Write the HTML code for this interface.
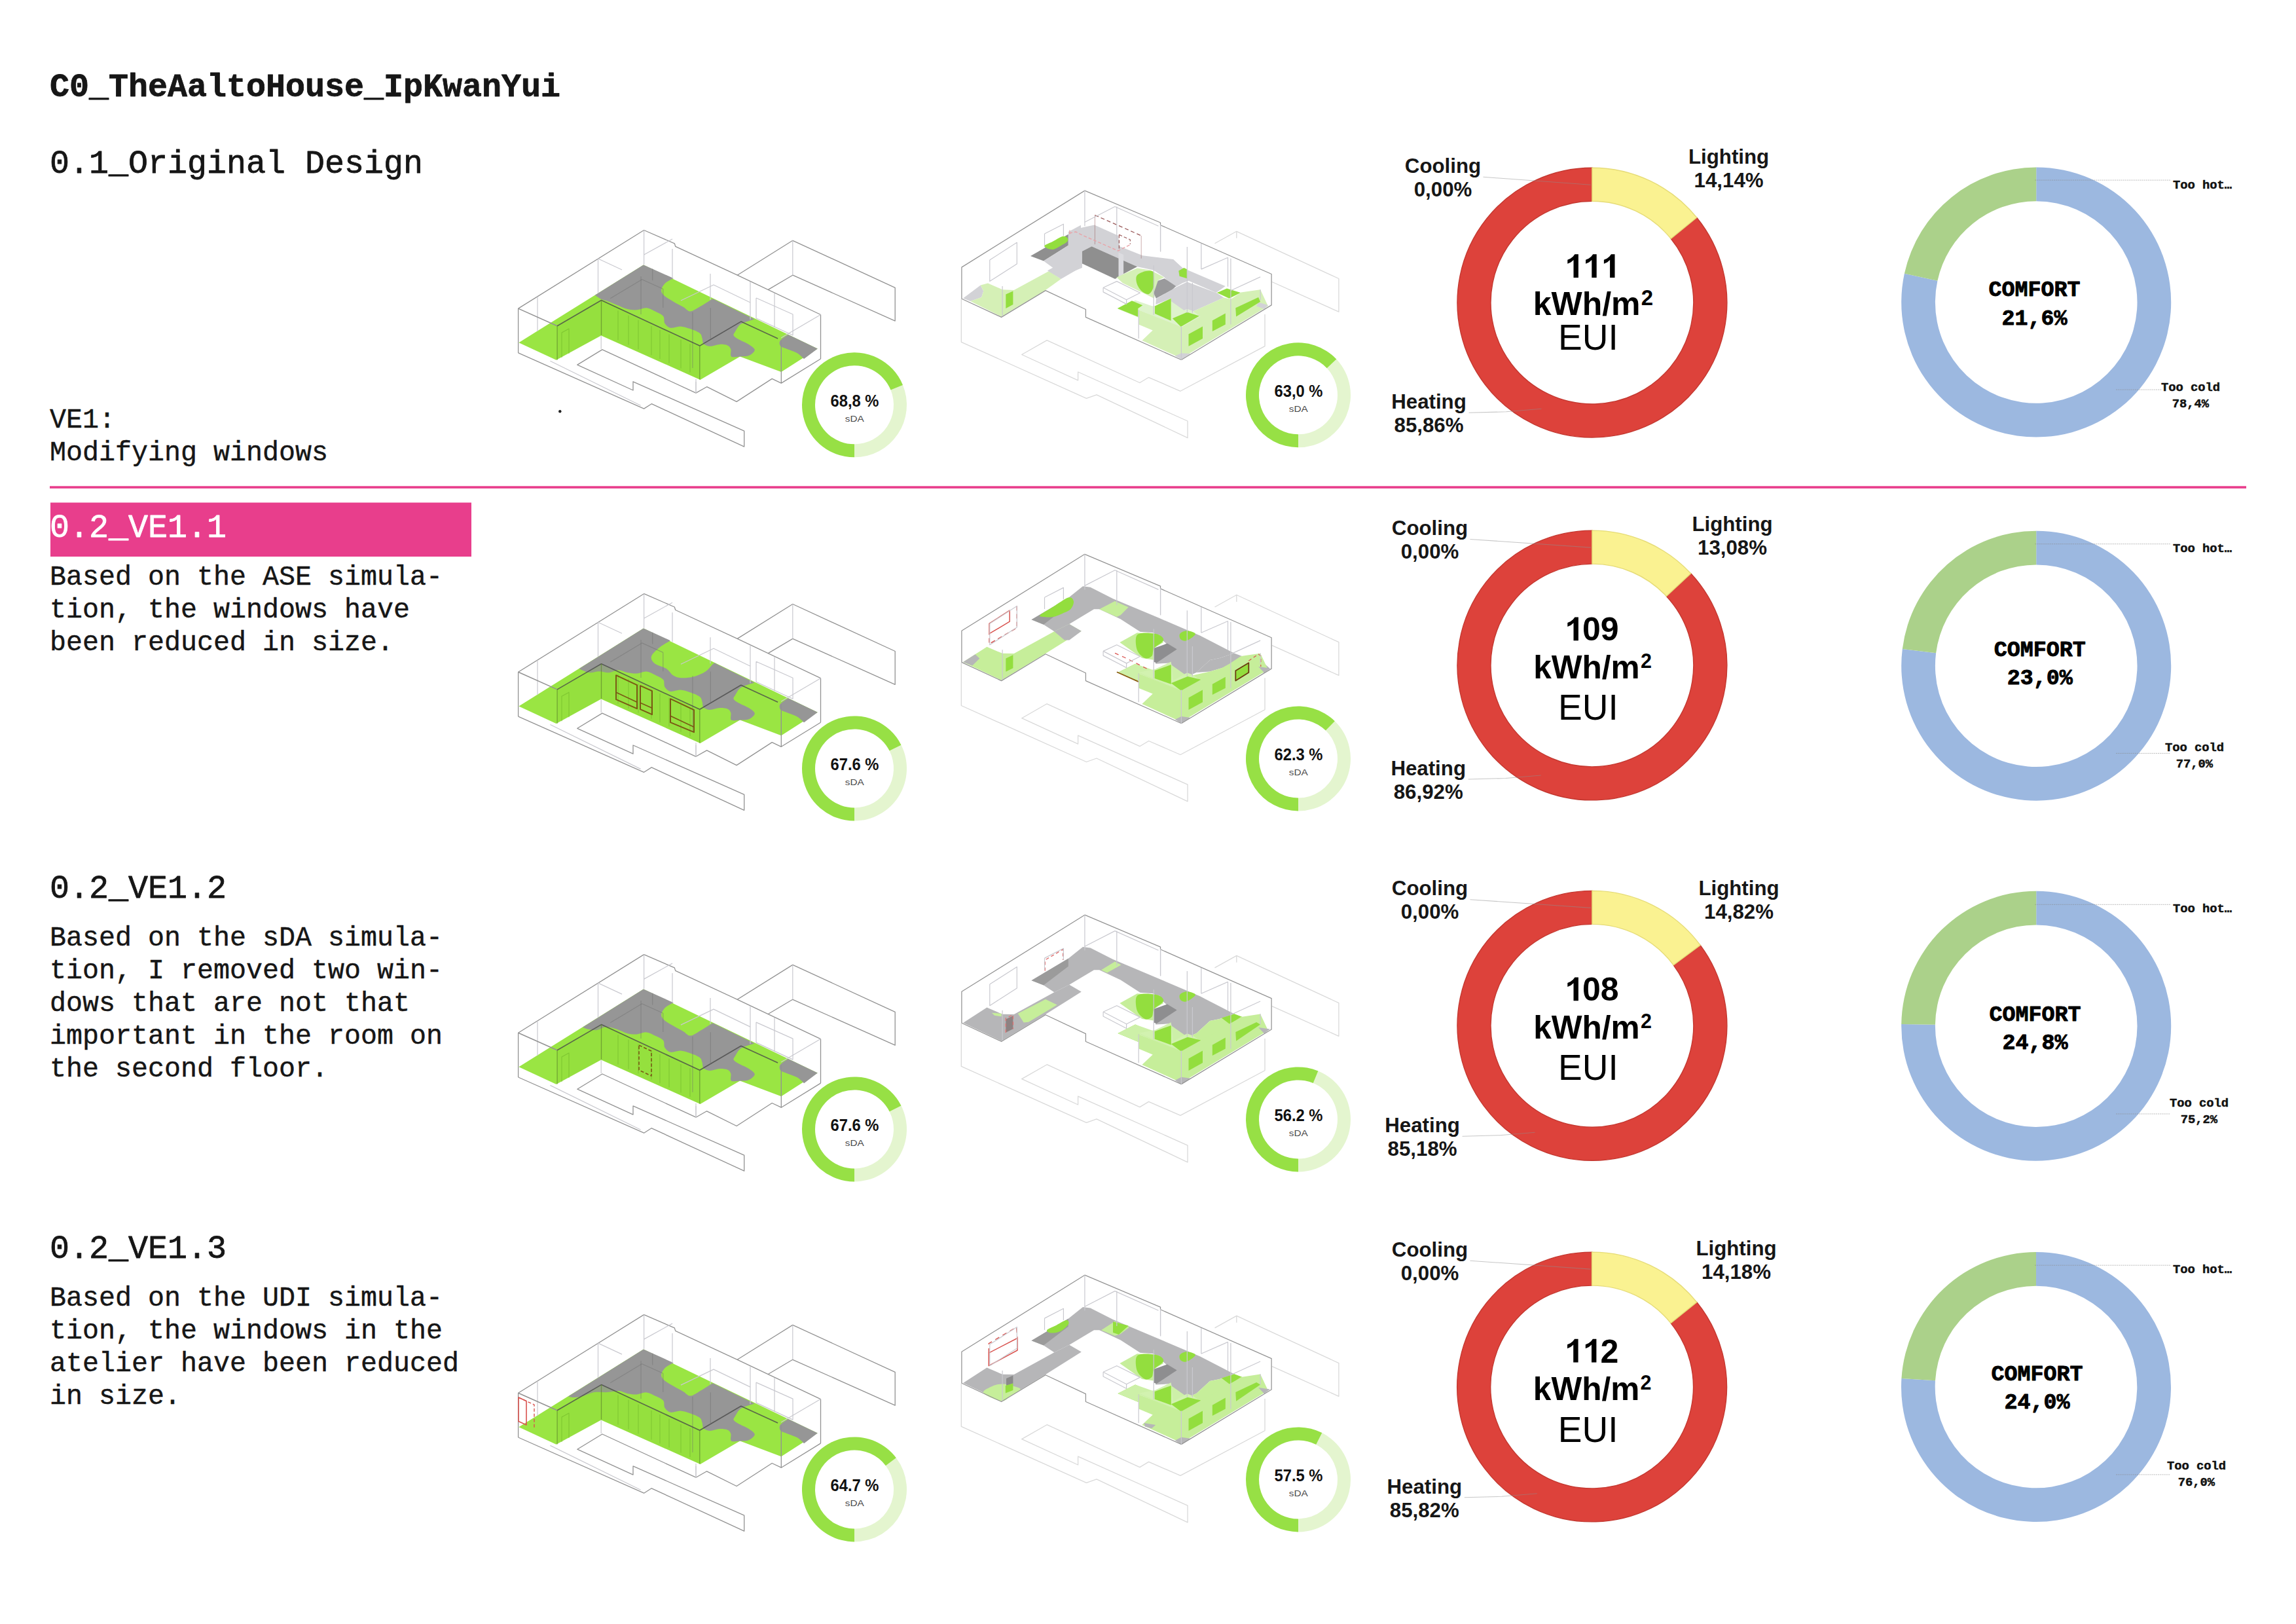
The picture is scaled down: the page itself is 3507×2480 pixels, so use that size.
<!DOCTYPE html>
<html><head><meta charset="utf-8"><title>C0_TheAaltoHouse_IpKwanYui</title>
<style>html,body{margin:0;padding:0;background:#fff}svg{display:block}text{white-space:pre}</style>
</head><body>
<svg width="3507" height="2480" viewBox="0 0 3507 2480">
<rect width="3507" height="2480" fill="#fff"/>
<text x="76" y="147" font-size="50" font-family="Liberation Mono, monospace" font-weight="bold" text-anchor="start" fill="#161616"  stroke="#161616" stroke-width="0.8" stroke-linejoin="round">C0_TheAaltoHouse_IpKwanYui</text>
<text x="76" y="263.6" font-size="50" font-family="Liberation Mono, monospace" font-weight="normal" text-anchor="start" fill="#161616"  stroke="#161616" stroke-width="0.8" stroke-linejoin="round">0.1_Original Design</text>
<text x="76" y="653" font-size="41.67" font-family="Liberation Mono, monospace" font-weight="normal" text-anchor="start" fill="#161616"  stroke="#161616" stroke-width="0.45" stroke-linejoin="round">VE1:</text>
<text x="76" y="703" font-size="41.67" font-family="Liberation Mono, monospace" font-weight="normal" text-anchor="start" fill="#161616"  stroke="#161616" stroke-width="0.45" stroke-linejoin="round">Modifying windows</text>
<rect x="76" y="742.3" width="3355" height="3.6" fill="#E83E8C"/>
<rect x="77" y="767.5" width="643" height="82.5" fill="#E83E8C"/>
<text x="76" y="820" font-size="50" font-family="Liberation Mono, monospace" font-weight="normal" text-anchor="start" fill="#ffffff"  stroke="#ffffff" stroke-width="0.8" stroke-linejoin="round">0.2_VE1.1</text>
<text x="76" y="893.3" font-size="41.67" font-family="Liberation Mono, monospace" font-weight="normal" text-anchor="start" fill="#161616"  stroke="#161616" stroke-width="0.45" stroke-linejoin="round">Based on the ASE simula-</text>
<text x="76" y="943.3" font-size="41.67" font-family="Liberation Mono, monospace" font-weight="normal" text-anchor="start" fill="#161616"  stroke="#161616" stroke-width="0.45" stroke-linejoin="round">tion, the windows have</text>
<text x="76" y="993.3" font-size="41.67" font-family="Liberation Mono, monospace" font-weight="normal" text-anchor="start" fill="#161616"  stroke="#161616" stroke-width="0.45" stroke-linejoin="round">been reduced in size.</text>
<text x="76" y="1371" font-size="50" font-family="Liberation Mono, monospace" font-weight="normal" text-anchor="start" fill="#161616"  stroke="#161616" stroke-width="0.8" stroke-linejoin="round">0.2_VE1.2</text>
<text x="76" y="1443.7" font-size="41.67" font-family="Liberation Mono, monospace" font-weight="normal" text-anchor="start" fill="#161616"  stroke="#161616" stroke-width="0.45" stroke-linejoin="round">Based on the sDA simula-</text>
<text x="76" y="1493.7" font-size="41.67" font-family="Liberation Mono, monospace" font-weight="normal" text-anchor="start" fill="#161616"  stroke="#161616" stroke-width="0.45" stroke-linejoin="round">tion, I removed two win-</text>
<text x="76" y="1543.7" font-size="41.67" font-family="Liberation Mono, monospace" font-weight="normal" text-anchor="start" fill="#161616"  stroke="#161616" stroke-width="0.45" stroke-linejoin="round">dows that are not that</text>
<text x="76" y="1593.7" font-size="41.67" font-family="Liberation Mono, monospace" font-weight="normal" text-anchor="start" fill="#161616"  stroke="#161616" stroke-width="0.45" stroke-linejoin="round">important in the room on</text>
<text x="76" y="1643.7" font-size="41.67" font-family="Liberation Mono, monospace" font-weight="normal" text-anchor="start" fill="#161616"  stroke="#161616" stroke-width="0.45" stroke-linejoin="round">the second floor.</text>
<text x="76" y="1921" font-size="50" font-family="Liberation Mono, monospace" font-weight="normal" text-anchor="start" fill="#161616"  stroke="#161616" stroke-width="0.8" stroke-linejoin="round">0.2_VE1.3</text>
<text x="76" y="1993.7" font-size="41.67" font-family="Liberation Mono, monospace" font-weight="normal" text-anchor="start" fill="#161616"  stroke="#161616" stroke-width="0.45" stroke-linejoin="round">Based on the UDI simula-</text>
<text x="76" y="2043.7" font-size="41.67" font-family="Liberation Mono, monospace" font-weight="normal" text-anchor="start" fill="#161616"  stroke="#161616" stroke-width="0.45" stroke-linejoin="round">tion, the windows in the</text>
<text x="76" y="2093.7" font-size="41.67" font-family="Liberation Mono, monospace" font-weight="normal" text-anchor="start" fill="#161616"  stroke="#161616" stroke-width="0.45" stroke-linejoin="round">atelier have been reduced</text>
<text x="76" y="2143.7" font-size="41.67" font-family="Liberation Mono, monospace" font-weight="normal" text-anchor="start" fill="#161616"  stroke="#161616" stroke-width="0.45" stroke-linejoin="round">in size.</text>
<path d="M2591.70 332.26A205.9 205.9 0 1 1 2431.90 256.20L2431.90 307.20A154.9 154.9 0 1 0 2552.12 364.42Z" fill="#DD423B" stroke="#c43830" stroke-width="1.4"/>
<path d="M2431.90 256.20A205.9 205.9 0 0 1 2591.70 332.26L2552.12 364.42A154.9 154.9 0 0 0 2431.90 307.20Z" fill="#FAF291" stroke="#e6dc78" stroke-width="1.4"/>
<path d="M2265.5 270.3 L2429.9 282.20000000000005" stroke="#8f8f8f" stroke-opacity=".5" stroke-width="1.1" fill="none"/>
<path d="M2243.5 630.3 L2300.5 628.8 L2354.5 624.3" stroke="#8f8f8f" stroke-opacity=".5" stroke-width="1.1" fill="none"/>
<text x="2204" y="263.8" font-size="31.25" font-family="Liberation Sans, sans-serif" font-weight="bold" text-anchor="middle" fill="#161616" >Cooling</text>
<text x="2204" y="299.90000000000003" font-size="31.25" font-family="Liberation Sans, sans-serif" font-weight="bold" text-anchor="middle" fill="#161616" >0,00%</text>
<text x="2640.6" y="249.7" font-size="31.25" font-family="Liberation Sans, sans-serif" font-weight="bold" text-anchor="middle" fill="#161616" >Lighting</text>
<text x="2640.6" y="285.8" font-size="31.25" font-family="Liberation Sans, sans-serif" font-weight="bold" text-anchor="middle" fill="#161616" >14,14%</text>
<text x="2182.5" y="624.3" font-size="31.25" font-family="Liberation Sans, sans-serif" font-weight="bold" text-anchor="middle" fill="#161616" >Heating</text>
<text x="2182.5" y="660.4" font-size="31.25" font-family="Liberation Sans, sans-serif" font-weight="bold" text-anchor="middle" fill="#161616" >85,86%</text>
<path d="M2410.90 388.20L2405.40 388.20L2402.70 391.80L2398.90 394.80L2394.30 396.80L2394.30 402.70L2399.40 400.40L2403.50 397.00L2403.50 424.00L2410.90 424.00Z" fill="#000"/>
<path d="M2438.70 388.20L2433.20 388.20L2430.50 391.80L2426.70 394.80L2422.10 396.80L2422.10 402.70L2427.20 400.40L2431.30 397.00L2431.30 424.00L2438.70 424.00Z" fill="#000"/>
<path d="M2466.50 388.20L2461.00 388.20L2458.30 391.80L2454.50 394.80L2449.90 396.80L2449.90 402.70L2455.00 400.40L2459.10 397.00L2459.10 424.00L2466.50 424.00Z" fill="#000"/>
<text x="2433.4" y="481.3" font-size="50" font-family="Liberation Sans, sans-serif" font-weight="bold" text-anchor="middle" fill="#000" >kWh/m<tspan font-size="33" dy="-15.6" dx="1.2">2</tspan></text>
<text x="2425.9" y="534.2" font-size="55" font-family="Liberation Sans, sans-serif" font-weight="normal" text-anchor="middle" fill="#000" >EUI</text>
<path d="M2582.70 875.81A205.9 205.9 0 1 1 2431.90 810.10L2431.90 861.10A154.9 154.9 0 1 0 2545.35 910.53Z" fill="#DD423B" stroke="#c43830" stroke-width="1.4"/>
<path d="M2431.90 810.10A205.9 205.9 0 0 1 2582.70 875.81L2545.35 910.53A154.9 154.9 0 0 0 2431.90 861.10Z" fill="#FAF291" stroke="#e6dc78" stroke-width="1.4"/>
<path d="M2245.5 823.5 L2429.9 836.1" stroke="#8f8f8f" stroke-opacity=".5" stroke-width="1.1" fill="none"/>
<path d="M2242.7 1190 L2299.7 1188.5 L2353.7 1184" stroke="#8f8f8f" stroke-opacity=".5" stroke-width="1.1" fill="none"/>
<text x="2184" y="817" font-size="31.25" font-family="Liberation Sans, sans-serif" font-weight="bold" text-anchor="middle" fill="#161616" >Cooling</text>
<text x="2184" y="853.1" font-size="31.25" font-family="Liberation Sans, sans-serif" font-weight="bold" text-anchor="middle" fill="#161616" >0,00%</text>
<text x="2646" y="811" font-size="31.25" font-family="Liberation Sans, sans-serif" font-weight="bold" text-anchor="middle" fill="#161616" >Lighting</text>
<text x="2646" y="847.1" font-size="31.25" font-family="Liberation Sans, sans-serif" font-weight="bold" text-anchor="middle" fill="#161616" >13,08%</text>
<text x="2181.7" y="1184" font-size="31.25" font-family="Liberation Sans, sans-serif" font-weight="bold" text-anchor="middle" fill="#161616" >Heating</text>
<text x="2181.7" y="1220.1" font-size="31.25" font-family="Liberation Sans, sans-serif" font-weight="bold" text-anchor="middle" fill="#161616" >86,92%</text>
<path d="M2410.90 942.50L2405.40 942.50L2402.70 946.10L2398.90 949.10L2394.30 951.10L2394.30 957.00L2399.40 954.70L2403.50 951.30L2403.50 978.30L2410.90 978.30Z" fill="#000"/>
<text x="2417.0000000000005" y="978.3" font-size="50" font-family="Liberation Sans, sans-serif" font-weight="bold" text-anchor="start" fill="#000" >0</text>
<text x="2444.8" y="978.3" font-size="50" font-family="Liberation Sans, sans-serif" font-weight="bold" text-anchor="start" fill="#000" >9</text>
<text x="2432.5" y="1035.6" font-size="49.6" font-family="Liberation Sans, sans-serif" font-weight="bold" text-anchor="middle" fill="#000" >kWh/m<tspan font-size="30.5" dy="-15.6" dx="1.2">2</tspan></text>
<text x="2425.9" y="1098.7" font-size="55" font-family="Liberation Sans, sans-serif" font-weight="normal" text-anchor="middle" fill="#000" >EUI</text>
<path d="M2597.10 1443.40A205.9 205.9 0 1 1 2431.90 1360.40L2431.90 1411.40A154.9 154.9 0 1 0 2556.18 1473.84Z" fill="#DD423B" stroke="#c43830" stroke-width="1.4"/>
<path d="M2431.90 1360.40A205.9 205.9 0 0 1 2597.10 1443.40L2556.18 1473.84A154.9 154.9 0 0 0 2431.90 1411.40Z" fill="#FAF291" stroke="#e6dc78" stroke-width="1.4"/>
<path d="M2245.5 1373.7 L2429.9 1386.3999999999999" stroke="#8f8f8f" stroke-opacity=".5" stroke-width="1.1" fill="none"/>
<path d="M2233.6 1735.2 L2290.6 1733.7 L2344.6 1729.2" stroke="#8f8f8f" stroke-opacity=".5" stroke-width="1.1" fill="none"/>
<text x="2184" y="1367.2" font-size="31.25" font-family="Liberation Sans, sans-serif" font-weight="bold" text-anchor="middle" fill="#161616" >Cooling</text>
<text x="2184" y="1403.3" font-size="31.25" font-family="Liberation Sans, sans-serif" font-weight="bold" text-anchor="middle" fill="#161616" >0,00%</text>
<text x="2656" y="1366.5" font-size="31.25" font-family="Liberation Sans, sans-serif" font-weight="bold" text-anchor="middle" fill="#161616" >Lighting</text>
<text x="2656" y="1402.6" font-size="31.25" font-family="Liberation Sans, sans-serif" font-weight="bold" text-anchor="middle" fill="#161616" >14,82%</text>
<text x="2172.6" y="1729.2" font-size="31.25" font-family="Liberation Sans, sans-serif" font-weight="bold" text-anchor="middle" fill="#161616" >Heating</text>
<text x="2172.6" y="1765.3" font-size="31.25" font-family="Liberation Sans, sans-serif" font-weight="bold" text-anchor="middle" fill="#161616" >85,18%</text>
<path d="M2410.90 1492.50L2405.40 1492.50L2402.70 1496.10L2398.90 1499.10L2394.30 1501.10L2394.30 1507.00L2399.40 1504.70L2403.50 1501.30L2403.50 1528.30L2410.90 1528.30Z" fill="#000"/>
<text x="2417.0000000000005" y="1528.3" font-size="50" font-family="Liberation Sans, sans-serif" font-weight="bold" text-anchor="start" fill="#000" >0</text>
<text x="2444.8" y="1528.3" font-size="50" font-family="Liberation Sans, sans-serif" font-weight="bold" text-anchor="start" fill="#000" >8</text>
<text x="2432.5" y="1585.8" font-size="49.6" font-family="Liberation Sans, sans-serif" font-weight="bold" text-anchor="middle" fill="#000" >kWh/m<tspan font-size="30.5" dy="-15.6" dx="1.2">2</tspan></text>
<text x="2425.9" y="1649.0" font-size="55" font-family="Liberation Sans, sans-serif" font-weight="normal" text-anchor="middle" fill="#000" >EUI</text>
<path d="M2591.72 1988.56A205.9 205.9 0 1 1 2431.60 1912.10L2431.60 1963.10A154.9 154.9 0 1 0 2552.06 2020.62Z" fill="#DD423B" stroke="#c43830" stroke-width="1.4"/>
<path d="M2431.60 1912.10A205.9 205.9 0 0 1 2591.72 1988.56L2552.06 2020.62A154.9 154.9 0 0 0 2431.60 1963.10Z" fill="#FAF291" stroke="#e6dc78" stroke-width="1.4"/>
<path d="M2245.5 1925.2 L2429.6 1938.1" stroke="#8f8f8f" stroke-opacity=".5" stroke-width="1.1" fill="none"/>
<path d="M2236.8 2286.8 L2293.8 2285.3 L2347.8 2280.8" stroke="#8f8f8f" stroke-opacity=".5" stroke-width="1.1" fill="none"/>
<text x="2184" y="1918.7" font-size="31.25" font-family="Liberation Sans, sans-serif" font-weight="bold" text-anchor="middle" fill="#161616" >Cooling</text>
<text x="2184" y="1954.8" font-size="31.25" font-family="Liberation Sans, sans-serif" font-weight="bold" text-anchor="middle" fill="#161616" >0,00%</text>
<text x="2652" y="1916.5" font-size="31.25" font-family="Liberation Sans, sans-serif" font-weight="bold" text-anchor="middle" fill="#161616" >Lighting</text>
<text x="2652" y="1952.6" font-size="31.25" font-family="Liberation Sans, sans-serif" font-weight="bold" text-anchor="middle" fill="#161616" >14,18%</text>
<text x="2175.8" y="2280.8" font-size="31.25" font-family="Liberation Sans, sans-serif" font-weight="bold" text-anchor="middle" fill="#161616" >Heating</text>
<text x="2175.8" y="2316.9" font-size="31.25" font-family="Liberation Sans, sans-serif" font-weight="bold" text-anchor="middle" fill="#161616" >85,82%</text>
<path d="M2410.60 2044.70L2405.10 2044.70L2402.40 2048.30L2398.60 2051.30L2394.00 2053.30L2394.00 2059.20L2399.10 2056.90L2403.20 2053.50L2403.20 2080.50L2410.60 2080.50Z" fill="#000"/>
<path d="M2438.40 2044.70L2432.90 2044.70L2430.20 2048.30L2426.40 2051.30L2421.80 2053.30L2421.80 2059.20L2426.90 2056.90L2431.00 2053.50L2431.00 2080.50L2438.40 2080.50Z" fill="#000"/>
<text x="2444.5" y="2080.5" font-size="50" font-family="Liberation Sans, sans-serif" font-weight="bold" text-anchor="start" fill="#000" >2</text>
<text x="2432.2" y="2137.9" font-size="49.6" font-family="Liberation Sans, sans-serif" font-weight="bold" text-anchor="middle" fill="#000" >kWh/m<tspan font-size="30.5" dy="-15.6" dx="1.2">2</tspan></text>
<text x="2425.6" y="2201.5" font-size="55" font-family="Liberation Sans, sans-serif" font-weight="normal" text-anchor="middle" fill="#000" >EUI</text>
<path d="M3110.20 255.50A206 206 0 1 1 2908.88 417.83L2959.41 428.79A154.3 154.3 0 1 0 3110.20 307.20Z" fill="#9CB8E0"/>
<path d="M2908.88 417.83A206 206 0 0 1 3110.20 255.50L3110.20 307.20A154.3 154.3 0 0 0 2959.41 428.79Z" fill="#ABD18A"/>
<path d="M3108.2 275.1 H3315" stroke="#8a8a8a" stroke-opacity=".55" stroke-width="1" stroke-dasharray="2.2 1"/>
<path d="M3232 595.1 H3302" stroke="#8a8a8a" stroke-opacity=".55" stroke-width="1" stroke-dasharray="2.2 1"/>
<text x="3107.4" y="452.2" font-size="33.33" font-family="Liberation Mono, monospace" font-weight="bold" text-anchor="middle" fill="#000"  stroke="#000" stroke-width="0.9" stroke-linejoin="round">COMFORT</text>
<text x="3107.4" y="496.2" font-size="33.33" font-family="Liberation Mono, monospace" font-weight="bold" text-anchor="middle" fill="#000"  stroke="#000" stroke-width="0.9" stroke-linejoin="round">21,6%</text>
<text x="3319" y="288.3" font-size="18.75" font-family="Liberation Mono, monospace" font-weight="bold" text-anchor="start" fill="#111"  stroke="#111" stroke-width="0.5" stroke-linejoin="round">Too hot…</text>
<text x="3346" y="597.3" font-size="18.75" font-family="Liberation Mono, monospace" font-weight="bold" text-anchor="middle" fill="#111"  stroke="#111" stroke-width="0.5" stroke-linejoin="round">Too cold</text>
<text x="3346" y="621.9" font-size="18.75" font-family="Liberation Mono, monospace" font-weight="bold" text-anchor="middle" fill="#111"  stroke="#111" stroke-width="0.5" stroke-linejoin="round">78,4%</text>
<path d="M3110.20 810.70A206 206 0 1 1 2905.82 990.88L2957.12 997.36A154.3 154.3 0 1 0 3110.20 862.40Z" fill="#9CB8E0"/>
<path d="M2905.82 990.88A206 206 0 0 1 3110.20 810.70L3110.20 862.40A154.3 154.3 0 0 0 2957.12 997.36Z" fill="#ABD18A"/>
<path d="M3108.2 830.7 H3315" stroke="#8a8a8a" stroke-opacity=".55" stroke-width="1" stroke-dasharray="2.2 1"/>
<path d="M3232 1150.4 H3315" stroke="#8a8a8a" stroke-opacity=".55" stroke-width="1" stroke-dasharray="2.2 1"/>
<text x="3115.8" y="1001.8" font-size="33.33" font-family="Liberation Mono, monospace" font-weight="bold" text-anchor="middle" fill="#000"  stroke="#000" stroke-width="0.9" stroke-linejoin="round">COMFORT</text>
<text x="3115.8" y="1045.1" font-size="33.33" font-family="Liberation Mono, monospace" font-weight="bold" text-anchor="middle" fill="#000"  stroke="#000" stroke-width="0.9" stroke-linejoin="round">23,0%</text>
<text x="3319" y="843.2" font-size="18.75" font-family="Liberation Mono, monospace" font-weight="bold" text-anchor="start" fill="#111"  stroke="#111" stroke-width="0.5" stroke-linejoin="round">Too hot…</text>
<text x="3352" y="1146.9" font-size="18.75" font-family="Liberation Mono, monospace" font-weight="bold" text-anchor="middle" fill="#111"  stroke="#111" stroke-width="0.5" stroke-linejoin="round">Too cold</text>
<text x="3352" y="1171.5" font-size="18.75" font-family="Liberation Mono, monospace" font-weight="bold" text-anchor="middle" fill="#111"  stroke="#111" stroke-width="0.5" stroke-linejoin="round">77,0%</text>
<path d="M3110.20 1360.70A206 206 0 1 1 2904.22 1564.11L2955.91 1564.76A154.3 154.3 0 1 0 3110.20 1412.40Z" fill="#9CB8E0"/>
<path d="M2904.22 1564.11A206 206 0 0 1 3110.20 1360.70L3110.20 1412.40A154.3 154.3 0 0 0 2955.91 1564.76Z" fill="#ABD18A"/>
<path d="M3108.2 1381.3 H3315" stroke="#8a8a8a" stroke-opacity=".55" stroke-width="1" stroke-dasharray="2.2 1"/>
<path d="M3232 1701 H3315" stroke="#8a8a8a" stroke-opacity=".55" stroke-width="1" stroke-dasharray="2.2 1"/>
<text x="3108.4" y="1559" font-size="33.33" font-family="Liberation Mono, monospace" font-weight="bold" text-anchor="middle" fill="#000"  stroke="#000" stroke-width="0.9" stroke-linejoin="round">COMFORT</text>
<text x="3108.4" y="1602" font-size="33.33" font-family="Liberation Mono, monospace" font-weight="bold" text-anchor="middle" fill="#000"  stroke="#000" stroke-width="0.9" stroke-linejoin="round">24,8%</text>
<text x="3319" y="1393.2" font-size="18.75" font-family="Liberation Mono, monospace" font-weight="bold" text-anchor="start" fill="#111"  stroke="#111" stroke-width="0.5" stroke-linejoin="round">Too hot…</text>
<text x="3359" y="1690" font-size="18.75" font-family="Liberation Mono, monospace" font-weight="bold" text-anchor="middle" fill="#111"  stroke="#111" stroke-width="0.5" stroke-linejoin="round">Too cold</text>
<text x="3359" y="1714.6" font-size="18.75" font-family="Liberation Mono, monospace" font-weight="bold" text-anchor="middle" fill="#111"  stroke="#111" stroke-width="0.5" stroke-linejoin="round">75,2%</text>
<path d="M3110.00 1912.00A206 206 0 1 1 2904.41 2105.07L2956.00 2108.31A154.3 154.3 0 1 0 3110.00 1963.70Z" fill="#9CB8E0"/>
<path d="M2904.41 2105.07A206 206 0 0 1 3110.00 1912.00L3110.00 1963.70A154.3 154.3 0 0 0 2956.00 2108.31Z" fill="#ABD18A"/>
<path d="M3108.0 1932.2 H3315" stroke="#8a8a8a" stroke-opacity=".55" stroke-width="1" stroke-dasharray="2.2 1"/>
<path d="M3232 2251.9 H3315" stroke="#8a8a8a" stroke-opacity=".55" stroke-width="1" stroke-dasharray="2.2 1"/>
<text x="3111.4" y="2108.1" font-size="33.33" font-family="Liberation Mono, monospace" font-weight="bold" text-anchor="middle" fill="#000"  stroke="#000" stroke-width="0.9" stroke-linejoin="round">COMFORT</text>
<text x="3111.4" y="2150.5" font-size="33.33" font-family="Liberation Mono, monospace" font-weight="bold" text-anchor="middle" fill="#000"  stroke="#000" stroke-width="0.9" stroke-linejoin="round">24,0%</text>
<text x="3319" y="1944.2" font-size="18.75" font-family="Liberation Mono, monospace" font-weight="bold" text-anchor="start" fill="#111"  stroke="#111" stroke-width="0.5" stroke-linejoin="round">Too hot…</text>
<text x="3355" y="2244.1" font-size="18.75" font-family="Liberation Mono, monospace" font-weight="bold" text-anchor="middle" fill="#111"  stroke="#111" stroke-width="0.5" stroke-linejoin="round">Too cold</text>
<text x="3355" y="2268.7" font-size="18.75" font-family="Liberation Mono, monospace" font-weight="bold" text-anchor="middle" fill="#111"  stroke="#111" stroke-width="0.5" stroke-linejoin="round">76,0%</text>
<path d="M1379.01 587.92A80 80 0 0 1 1305.00 698.30L1305.00 678.30A60 60 0 0 0 1360.50 595.51Z" fill="#E4F5CF"/>
<path d="M1305.00 698.30A80 80 0 1 1 1379.01 587.92L1360.50 595.51A60 60 0 1 0 1305.00 678.30Z" fill="#97E045"/>
<text x="1305.5" y="620.5" font-size="26" font-family="Liberation Sans, sans-serif" font-weight="bold" text-anchor="middle" fill="#111" textLength="74" lengthAdjust="spacingAndGlyphs">68,8 %</text>
<text x="1305.3" y="643.5" font-size="13.5" font-family="Liberation Sans, sans-serif" font-weight="normal" text-anchor="middle" fill="#4a4a4a" textLength="29" lengthAdjust="spacingAndGlyphs">sDA</text>
<path d="M2041.32 548.54A80 80 0 0 1 1983.00 683.30L1983.00 663.30A60 60 0 0 0 2026.74 562.23Z" fill="#E4F5CF"/>
<path d="M1983.00 683.30A80 80 0 1 1 2041.32 548.54L2026.74 562.23A60 60 0 1 0 1983.00 663.30Z" fill="#97E045"/>
<text x="1983.5" y="605.5" font-size="26" font-family="Liberation Sans, sans-serif" font-weight="bold" text-anchor="middle" fill="#111" textLength="74" lengthAdjust="spacingAndGlyphs">63,0 %</text>
<text x="1983.3" y="628.5" font-size="13.5" font-family="Liberation Sans, sans-serif" font-weight="normal" text-anchor="middle" fill="#4a4a4a" textLength="29" lengthAdjust="spacingAndGlyphs">sDA</text>
<path d="M1376.51 1137.63A80 80 0 0 1 1305.00 1253.50L1305.00 1233.50A60 60 0 0 0 1358.63 1146.60Z" fill="#E4F5CF"/>
<path d="M1305.00 1253.50A80 80 0 1 1 1376.51 1137.63L1358.63 1146.60A60 60 0 1 0 1305.00 1233.50Z" fill="#97E045"/>
<text x="1305.5" y="1175.7" font-size="26" font-family="Liberation Sans, sans-serif" font-weight="bold" text-anchor="middle" fill="#111" textLength="74" lengthAdjust="spacingAndGlyphs">67.6 %</text>
<text x="1305.3" y="1198.7" font-size="13.5" font-family="Liberation Sans, sans-serif" font-weight="normal" text-anchor="middle" fill="#4a4a4a" textLength="29" lengthAdjust="spacingAndGlyphs">sDA</text>
<path d="M2038.85 1101.23A80 80 0 0 1 1983.00 1238.50L1983.00 1218.50A60 60 0 0 0 2024.89 1115.54Z" fill="#E4F5CF"/>
<path d="M1983.00 1238.50A80 80 0 1 1 2038.85 1101.23L2024.89 1115.54A60 60 0 1 0 1983.00 1218.50Z" fill="#97E045"/>
<text x="1983.5" y="1160.7" font-size="26" font-family="Liberation Sans, sans-serif" font-weight="bold" text-anchor="middle" fill="#111" textLength="74" lengthAdjust="spacingAndGlyphs">62.3 %</text>
<text x="1983.3" y="1183.7" font-size="13.5" font-family="Liberation Sans, sans-serif" font-weight="normal" text-anchor="middle" fill="#4a4a4a" textLength="29" lengthAdjust="spacingAndGlyphs">sDA</text>
<path d="M1376.51 1688.53A80 80 0 0 1 1305.00 1804.40L1305.00 1784.40A60 60 0 0 0 1358.63 1697.50Z" fill="#E4F5CF"/>
<path d="M1305.00 1804.40A80 80 0 1 1 1376.51 1688.53L1358.63 1697.50A60 60 0 1 0 1305.00 1784.40Z" fill="#97E045"/>
<text x="1305.5" y="1726.6" font-size="26" font-family="Liberation Sans, sans-serif" font-weight="bold" text-anchor="middle" fill="#111" textLength="74" lengthAdjust="spacingAndGlyphs">67.6 %</text>
<text x="1305.3" y="1749.6" font-size="13.5" font-family="Liberation Sans, sans-serif" font-weight="normal" text-anchor="middle" fill="#4a4a4a" textLength="29" lengthAdjust="spacingAndGlyphs">sDA</text>
<path d="M2013.38 1635.39A80 80 0 0 1 1983.00 1789.40L1983.00 1769.40A60 60 0 0 0 2005.79 1653.90Z" fill="#E4F5CF"/>
<path d="M1983.00 1789.40A80 80 0 1 1 2013.38 1635.39L2005.79 1653.90A60 60 0 1 0 1983.00 1769.40Z" fill="#97E045"/>
<text x="1983.5" y="1711.6" font-size="26" font-family="Liberation Sans, sans-serif" font-weight="bold" text-anchor="middle" fill="#111" textLength="74" lengthAdjust="spacingAndGlyphs">56.2 %</text>
<text x="1983.3" y="1734.6" font-size="13.5" font-family="Liberation Sans, sans-serif" font-weight="normal" text-anchor="middle" fill="#4a4a4a" textLength="29" lengthAdjust="spacingAndGlyphs">sDA</text>
<path d="M1368.82 2226.17A80 80 0 0 1 1305.00 2354.40L1305.00 2334.40A60 60 0 0 0 1352.87 2238.22Z" fill="#E4F5CF"/>
<path d="M1305.00 2354.40A80 80 0 1 1 1368.82 2226.17L1352.87 2238.22A60 60 0 1 0 1305.00 2334.40Z" fill="#97E045"/>
<text x="1305.5" y="2276.5999999999995" font-size="26" font-family="Liberation Sans, sans-serif" font-weight="bold" text-anchor="middle" fill="#111" textLength="74" lengthAdjust="spacingAndGlyphs">64.7 %</text>
<text x="1305.3" y="2299.5999999999995" font-size="13.5" font-family="Liberation Sans, sans-serif" font-weight="normal" text-anchor="middle" fill="#4a4a4a" textLength="29" lengthAdjust="spacingAndGlyphs">sDA</text>
<path d="M2019.32 2188.12A80 80 0 0 1 1983.00 2339.40L1983.00 2319.40A60 60 0 0 0 2010.24 2205.94Z" fill="#E4F5CF"/>
<path d="M1983.00 2339.40A80 80 0 1 1 2019.32 2188.12L2010.24 2205.94A60 60 0 1 0 1983.00 2319.40Z" fill="#97E045"/>
<text x="1983.5" y="2261.5999999999995" font-size="26" font-family="Liberation Sans, sans-serif" font-weight="bold" text-anchor="middle" fill="#111" textLength="74" lengthAdjust="spacingAndGlyphs">57.5 %</text>
<text x="1983.3" y="2284.5999999999995" font-size="13.5" font-family="Liberation Sans, sans-serif" font-weight="normal" text-anchor="middle" fill="#4a4a4a" textLength="29" lengthAdjust="spacingAndGlyphs">sDA</text>
<g transform="translate(0 0)">
<path d="M792.4 523.2L982.9 404.4L1248.8 532.5L1193.3 568.1L1130.3 544.4L1069.6 579.9L918.2 512.4L849.5 549.7Z" fill="#9AE543"/>
<path d="M908.8 450.8L982.9 404.4L1028.8 425.1C1026.8 426.2 1020.0 429.0 1016.9 431.8C1013.8 434.6 1010.8 439.0 1010.3 442.2C1009.8 445.4 1010.9 448.0 1014.0 451.1C1017.1 454.2 1023.9 457.8 1028.8 460.7C1033.7 463.6 1039.4 466.3 1043.6 468.8C1047.8 471.3 1050.2 475.2 1053.9 475.5C1057.6 475.8 1060.6 473.1 1065.8 470.3C1071.0 467.5 1081.2 460.9 1085.0 458.5C1088.8 456.1 1088.2 456.6 1088.8 456.2L1152.5 487.4C1149.0 488.6 1136.7 491.6 1131.8 494.8C1126.9 498.0 1124.8 503.7 1122.9 506.6C1121.1 509.6 1119.7 510.5 1120.7 512.5C1121.7 514.5 1125.0 516.3 1128.8 518.5C1132.6 520.7 1139.8 523.4 1143.7 525.9C1147.7 528.4 1151.5 531.1 1152.5 533.3C1153.5 535.5 1151.3 537.5 1149.6 539.2C1147.9 540.9 1145.4 542.7 1142.2 543.6C1139.0 544.5 1134.5 544.3 1130.3 544.4C1126.1 544.5 1119.3 546.2 1117.0 544.4C1114.7 542.5 1117.3 536.1 1116.3 533.3C1115.3 530.5 1113.9 528.6 1111.1 527.4C1108.2 526.2 1103.7 525.7 1099.2 525.9C1094.8 526.1 1088.5 528.9 1084.4 528.8C1080.3 528.7 1076.7 527.2 1074.7 525.1C1072.7 523.0 1073.5 518.9 1072.5 516.2C1071.5 513.5 1071.9 511.2 1068.8 508.8C1065.7 506.4 1059.0 503.8 1054.0 502.1C1049.0 500.4 1044.0 498.6 1039.1 498.4C1034.1 498.2 1028.2 501.4 1024.3 500.7C1020.4 500.0 1017.4 497.0 1015.5 494.0C1013.6 491.0 1015.4 485.9 1013.2 482.9C1011.0 479.9 1006.4 478.3 1002.1 476.2C997.8 474.1 992.2 470.8 987.3 470.3C982.4 469.8 977.4 473.1 972.5 473.3C967.6 473.6 962.6 473.0 957.7 471.8C952.8 470.6 947.8 467.9 942.9 465.9C938.0 463.9 932.2 461.4 928.1 459.9C924.0 458.4 921.7 458.5 918.5 457.0C915.3 455.5 910.4 451.8 908.8 450.8Z" fill="#969696"/>
<path d="M1204.0 511.0L1248.8 532.5L1228.1 548.1C1226.4 546.6 1221.9 541.7 1217.7 539.2C1213.5 536.7 1207.1 535.0 1202.9 533.3C1198.7 531.6 1194.5 530.8 1192.5 528.8C1190.5 526.8 1190.2 523.6 1191.0 521.4C1191.8 519.2 1194.8 517.2 1197.0 515.5C1199.2 513.8 1202.8 511.8 1204.0 511.0Z" fill="#969696"/>
<path d="M851.1 497.7L918.5 458.5L918.5 511.8L851.1 549.5Z" fill="#7fcf2e" opacity=".18"/>
<path d="M918.5 458.5L1068.8 528.1L1068.8 579.5L918.5 511.8Z" fill="#7fcf2e" opacity=".18"/>
<path d="M791.6 471.1L983.6 351.5L1030.3 371.8L1031.7 376.3L1126.2 420.2L1253.5 480.5" fill="none" stroke="#929292" stroke-width="1.3" stroke-linejoin="round" />
<path d="M791.6 471.1L791.6 538.9" fill="none" stroke="#929292" stroke-width="1.3" stroke-linejoin="round" />
<path d="M1253.5 480.5L1253.5 548.0" fill="none" stroke="#929292" stroke-width="1.3" stroke-linejoin="round" />
<path d="M1126.2 420.2L1210.8 367.3L1367.2 439.3L1367.2 490.1L1210.8 420.2L1173.3 442.4" fill="none" stroke="#929292" stroke-width="1.3" stroke-linejoin="round" />
<path d="M791.6 538.9L983.6 624.1L995.2 616.7L1136.7 682.1L1136.7 658.1L967.0 582.8L967.0 596.0L881.8 557.1L919.9 533.9L1063.0 600.1L1079.6 590.7L1125.1 613.4L1179.2 578.4L1193.3 585.1L1253.5 548.0" fill="none" stroke="#929292" stroke-width="1.3" stroke-linejoin="round" />
<path d="M1193.3 585.1L1193.3 520.0" fill="none" stroke="#929292" stroke-width="1.3" stroke-linejoin="round" />
<path d="M983.6 351.5L983.6 404.0" fill="none" stroke="#c9c9cf" stroke-width="1.2" stroke-linejoin="round" />
<path d="M1210.8 367.3L1210.8 420.2" fill="none" stroke="#c9c9cf" stroke-width="1.2" stroke-linejoin="round" />
<path d="M821.0 453.0L821.0 506.0" fill="none" stroke="#c9c9cf" stroke-width="1.2" stroke-linejoin="round" />
<path d="M913.5 395.0L913.5 448.0" fill="none" stroke="#c9c9cf" stroke-width="1.2" stroke-linejoin="round" />
<path d="M913.5 395.0L950.0 412.0" fill="none" stroke="#c9c9cf" stroke-width="1.2" stroke-linejoin="round" />
<path d="M1027.0 380.0L1027.0 425.0" fill="none" stroke="#c9c9cf" stroke-width="1.2" stroke-linejoin="round" />
<path d="M983.6 389.0L1027.0 365.0" fill="none" stroke="#c9c9cf" stroke-width="1.2" stroke-linejoin="round" />
<path d="M840.4 551.3L978.6 619.2" fill="none" stroke="#c9c9cf" stroke-width="1.2" stroke-linejoin="round" />
<path d="M918.2 512.4L918.2 533.0" fill="none" stroke="#c9c9cf" stroke-width="1.2" stroke-linejoin="round" />
<path d="M1063.0 579.0L1063.0 600.1" fill="none" stroke="#c9c9cf" stroke-width="1.2" stroke-linejoin="round" />
<path d="M1040.0 459.0L1090.0 435.0L1146.0 462.0" fill="none" stroke="#c9c9cf" stroke-width="1.2" stroke-linejoin="round" />
<path d="M1146.0 430.0L1146.0 488.0" fill="none" stroke="#c9c9cf" stroke-width="1.2" stroke-linejoin="round" />
<path d="M1085.0 418.0L1085.0 458.0" fill="none" stroke="#c9c9cf" stroke-width="1.2" stroke-linejoin="round" />
<path d="M1155.0 455.0L1155.0 486.0L1211.0 512.0L1211.0 480.0L1155.0 455.0" fill="none" stroke="#c9c9cf" stroke-width="1.2" stroke-linejoin="round" />
<path d="M1253.5 480.5L1193.0 516.0" fill="none" stroke="#c9c9cf" stroke-width="1.2" stroke-linejoin="round" />
<path d="M1183.0 448.0L1183.0 500.0" fill="none" stroke="#c9c9cf" stroke-width="1.2" stroke-linejoin="round" />
<path d="M1063.0 600.0L1063.0 582.9" fill="none" stroke="#c9c9cf" stroke-width="1.2" stroke-linejoin="round" />
<path d="M932.2 455.7L980.6 426.7L1012.8 441.2" fill="none" stroke="#6e6e6e" stroke-width="1.2" stroke-linejoin="round" opacity="0.45" />
<path d="M979.0 421.9L979.0 479.9" fill="none" stroke="#6e6e6e" stroke-width="1.2" stroke-linejoin="round" opacity="0.45" />
<path d="M996.7 410.6L996.7 428.3" fill="none" stroke="#6e6e6e" stroke-width="1.2" stroke-linejoin="round" opacity="0.45" />
<path d="M1085.3 470.2L1085.3 517.0" fill="none" stroke="#6e6e6e" stroke-width="1.2" stroke-linejoin="round" opacity="0.45" />
<path d="M1057.9 476.7L1057.9 562.0" fill="none" stroke="#6e6e6e" stroke-width="1.2" stroke-linejoin="round" opacity="0.45" />
<path d="M1012.8 441.2L1012.8 470.0" fill="none" stroke="#6e6e6e" stroke-width="1.2" stroke-linejoin="round" opacity="0.45" />
<path d="M791.6 471.1L851.1 497.7" fill="none" stroke="#929292" stroke-width="1.5" stroke-linejoin="round" />
<path d="M851.1 497.7L918.5 458.5L1068.8 528.1L1131.8 491.1L1188.1 517.0" fill="none" stroke="#4a4a4a" stroke-width="1.6" stroke-linejoin="round" opacity="0.8" />
<path d="M851.1 497.7L851.1 549.5" fill="none" stroke="#5f8a2c" stroke-width="1.3" stroke-linejoin="round" opacity="0.7" />
<path d="M918.5 458.5L918.5 511.8" fill="none" stroke="#5f8a2c" stroke-width="1.3" stroke-linejoin="round" opacity="0.7" />
<path d="M1068.8 528.1L1068.8 579.5" fill="none" stroke="#5f8a2c" stroke-width="1.3" stroke-linejoin="round" opacity="0.7" />
<path d="M944.0 474.3L944.0 519.3" fill="none" stroke="#6fb52a" stroke-width="1.1" stroke-linejoin="round" opacity="0.55" />
<path d="M960.0 481.7L960.0 526.5" fill="none" stroke="#6fb52a" stroke-width="1.1" stroke-linejoin="round" opacity="0.55" />
<path d="M975.0 488.7L975.0 533.2" fill="none" stroke="#6fb52a" stroke-width="1.1" stroke-linejoin="round" opacity="0.55" />
<path d="M995.0 497.9L995.0 542.3" fill="none" stroke="#6fb52a" stroke-width="1.1" stroke-linejoin="round" opacity="0.55" />
<path d="M1008.0 503.9L1008.0 548.1" fill="none" stroke="#6fb52a" stroke-width="1.1" stroke-linejoin="round" opacity="0.55" />
<path d="M1022.0 510.4L1022.0 554.4" fill="none" stroke="#6fb52a" stroke-width="1.1" stroke-linejoin="round" opacity="0.55" />
<path d="M1040.0 518.8L1040.0 562.5" fill="none" stroke="#6fb52a" stroke-width="1.1" stroke-linejoin="round" opacity="0.55" />
<path d="M1054.0 525.2L1054.0 568.8" fill="none" stroke="#6fb52a" stroke-width="1.1" stroke-linejoin="round" opacity="0.55" />
<path d="M858.0 546.0L858.0 508.0L869.0 502.0L869.0 540.0" fill="none" stroke="#6fb52a" stroke-width="1.1" stroke-linejoin="round" opacity="0.6" />
<circle cx="855.3" cy="628.3" r="2.2" fill="#222"/>
<path d="M1468.3 456.5L1468.3 522.3L1659.4 608.3L1675.0 602.8L1814.0 668.7L1814.0 643.0L1646.6 568.0L1646.6 580.9L1560.7 541.5L1599.1 519.6L1740.9 584.5L1754.6 576.3L1803.0 597.3L1932.0 528.6L1932.0 480.0" fill="none" stroke="#d9d9d9" stroke-width="1.3" stroke-linejoin="round" />
<path d="M1855.5 371.8L1888.8 353.3L2044.9 425.5L2044.9 476.2L1943.0 430.5" fill="none" stroke="#d9d9d9" stroke-width="1.3" stroke-linejoin="round" />
<path d="M1888.8 353.3L1888.8 363.7" fill="none" stroke="#d9d9d9" stroke-width="1.3" stroke-linejoin="round" />
<path d="M1471.1 455.5L1497.8 435.5L1502.2 444.4L1499.2 454.0L1482.2 459.9Z" fill="#D2D2D6"/>
<path d="M1497.8 435.5L1508.9 432.5L1531.1 442.2L1548.8 442.9L1602.2 414.0L1620.7 425.9L1597.0 442.9L1529.6 483.6L1482.2 459.9L1499.2 454.0L1502.2 444.4Z" fill="#D5F0B6"/>
<path d="M1536.3 449.6L1547.4 444.4L1547.4 465.1L1536.3 471.0Z" fill="#93DE3E"/>
<path d="M1574.0 391.1L1631.8 357.7L1631.8 374.8L1594.0 398.5Z" fill="#8F8F8F"/>
<path d="M1595.5 375.1C1596.9 373.3 1603.5 371.2 1608.1 368.8C1612.6 366.5 1619.2 362.1 1622.9 361.1C1626.6 360.2 1629.1 361.9 1630.3 363.2C1631.5 364.5 1632.0 366.8 1630.3 368.8C1628.6 370.9 1623.4 373.5 1619.9 375.5C1616.5 377.5 1612.9 380.0 1609.6 380.7C1606.2 381.4 1602.3 380.4 1599.9 379.5C1597.6 378.6 1594.1 376.8 1595.5 375.1Z" fill="#93DE3E"/>
<path d="M1594.0 398.5L1631.8 374.8L1631.8 354.0L1651.0 343.7L1652.5 407.4L1620.7 425.9L1599.9 413.3L1608.1 408.8Z" fill="#D2D2D6"/>
<path d="M1633.0 355.1L1652.9 347.5L1671.6 343.4L1707.9 359.8L1710.2 376.2L1745.3 390.2L1792.1 396.1L1806.2 408.9L1871.7 437.0L1857.6 447.0L1815.5 428.8L1806.2 432.3L1795.6 438.2L1786.3 432.3L1778.1 423.0L1761.7 412.4L1737.1 407.2L1667.5 376.2L1652.9 383.8L1652.9 408.9L1633.0 417.1Z" fill="#D2D2D6"/>
<path d="M1652.9 383.8L1667.5 376.2L1737.1 407.2L1716.1 418.3L1703.2 425.9L1652.9 402.5Z" fill="#8F8F8F"/>
<path d="M1708.5 385.5L1716.1 389.0L1716.1 419.5L1708.5 423.0Z" fill="#dcdce0"/>
<path d="M1705.5 423.6L1721.9 416.0L1737.1 409.5L1757.0 412.4L1778.1 423.6L1768.7 428.2L1762.9 455.7L1748.8 448.7L1714.9 432.3Z" fill="#D5F0B6"/>
<path d="M1736.0 421.8C1737.3 418.6 1741.8 416.7 1745.3 415.4C1748.8 414.0 1754.2 413.2 1757.0 413.6C1759.8 414.0 1761.4 413.8 1762.3 417.7C1763.2 421.6 1763.4 431.8 1762.3 437.0C1761.1 442.2 1758.1 447.3 1755.3 448.7C1752.4 450.2 1748.3 448.1 1745.3 445.8C1742.3 443.4 1738.7 438.7 1737.1 434.7C1735.6 430.7 1734.6 425.0 1736.0 421.8Z" fill="#93DE3E"/>
<path d="M1768.7 428.8L1778.7 425.3L1796.2 437.0L1790.9 442.3L1765.8 455.7L1762.3 447.5Z" fill="#9a9a9c"/>
<path d="M1800.3 413.6L1808.5 408.9L1813.2 411.3L1813.2 425.3L1801.5 421.8Z" fill="#93DE3E"/>
<path d="M1765.8 456.3L1796.2 438.8L1813.2 430.6L1858.8 447.5L1869.3 454.6L1822.5 475.6L1813.2 472.1L1789.8 483.8L1788.6 455.7L1765.2 465.1Z" fill="#D2D2D6"/>
<path d="M1707.4 471.8L1734.1 458.5L1763.7 468.8L1788.8 459.9L1814.0 477.7L1804.4 499.9L1739.2 473.3L1739.2 485.1Z" fill="#def3cc"/>
<path d="M1739.5 471.5L1764.0 466.9L1788.6 455.2L1792.1 483.8L1813.2 472.1L1822.5 475.6L1833.1 483.8L1803.8 499.0Z" fill="#def3cc"/>
<path d="M1706.7 470.9L1728.9 459.2L1745.3 466.3L1738.3 470.9L1738.3 483.8Z" fill="#93DE3E"/>
<path d="M1764.0 467.4L1788.6 455.7L1788.6 489.7L1764.0 479.1Z" fill="#93DE3E"/>
<path d="M1822.5 475.6L1869.3 454.6L1881.0 456.9L1874.0 467.4L1833.1 483.8Z" fill="#D5F0B6"/>
<path d="M1790.9 486.2L1813.2 476.8L1831.9 482.6L1803.8 499.0Z" fill="#93DE3E"/>
<path d="M1858.8 447.0L1874.0 440.5L1895.1 447.0L1877.5 455.7Z" fill="#93DE3E"/>
<path d="M1739.2 473.3L1804.4 499.2L1804.4 547.3L1744.4 519.9L1760.7 504.4L1739.2 495.5Z" fill="#D5F0B6"/>
<path d="M1804.4 499.2L1877.7 458.5L1895.5 446.6L1925.1 442.2L1936.9 467.4L1804.4 547.3Z" fill="#D5F0B6"/>
<path d="M1794.8 543.6L1804.4 539.2L1818.5 539.9L1804.4 548.8Z" fill="#D2D2D6"/>
<path d="M1922.1 461.4L1936.9 465.9L1931.0 471.8L1919.2 467.4Z" fill="#D2D2D6"/>
<path d="M1815.5 510.3L1837.0 498.4L1837.0 517.0L1815.5 528.8Z" fill="#93DE3E"/>
<path d="M1851.8 489.6L1871.8 478.5L1871.8 495.5L1851.8 505.9Z" fill="#93DE3E"/>
<path d="M1887.3 470.3L1922.1 454.0L1925.1 460.7L1888.1 483.6Z" fill="#93DE3E"/>
<path d="M1672.4 328.5L1743.2 359.9" fill="none" stroke="#9a5a5a" stroke-width="1.3" stroke-linejoin="round" stroke-dasharray="6 4"/>
<path d="M1672.4 328.5L1672.4 373.1" fill="none" stroke="#9a5a5a" stroke-width="1.0" stroke-linejoin="round" opacity="0.5" />
<path d="M1743.2 359.9L1743.2 394.7" fill="none" stroke="#9a5a5a" stroke-width="1.0" stroke-linejoin="round" opacity="0.5" />
<path d="M1709.4 358.4L1709.4 380.8" fill="none" stroke="#9a5a5a" stroke-width="1.3" stroke-linejoin="round" stroke-dasharray="5 3"/>
<path d="M1709.4 358.4L1726.3 366.0L1726.3 373.1" fill="none" stroke="#9a5a5a" stroke-width="1.2" stroke-linejoin="round" stroke-dasharray="5 3"/>
<path d="M1633.0 356.2L1643.2 354.0L1655.5 360.2L1677.0 369.4L1707.8 383.0L1726.3 373.7" fill="none" stroke="#e9a3a8" stroke-width="1.4" stroke-linejoin="round" stroke-dasharray="5 3"/>
<path d="M1633.9 351.6L1633.9 357.7" fill="none" stroke="#e9a3a8" stroke-width="1.2" stroke-linejoin="round" />
<path d="M1468.9 456.2L1468.9 408.1L1656.9 291.1L1772.5 340.0L1772.5 343.7L1942.1 418.5L1942.1 465.9L1804.4 549.5" fill="none" stroke="#939393" stroke-width="1.25" stroke-linejoin="round" />
<path d="M1468.9 456.2L1529.6 484.4L1597.0 443.6L1658.4 472.5L1658.4 484.4L1804.4 549.5" fill="none" stroke="#939393" stroke-width="1.25" stroke-linejoin="round" />
<path d="M1656.9 291.1L1656.9 345.2" fill="none" stroke="#c9c9cf" stroke-width="1.2" stroke-linejoin="round" />
<path d="M1804.4 498.4L1804.4 549.5" fill="none" stroke="#c9c9cf" stroke-width="1.2" stroke-linejoin="round" />
<path d="M1531.1 437.0L1531.1 482.9" fill="none" stroke="#c9c9cf" stroke-width="1.2" stroke-linejoin="round" />
<path d="M1511.8 397.0L1553.3 370.3L1553.3 402.9L1511.8 429.6L1511.8 397.0" fill="none" stroke="#c9c9cf" stroke-width="1.2" stroke-linejoin="round" />
<path d="M1595.5 357.0L1624.4 342.2L1624.4 360.0" fill="none" stroke="#c9c9cf" stroke-width="1.2" stroke-linejoin="round" />
<path d="M1595.5 357.0L1595.5 374.8" fill="none" stroke="#c9c9cf" stroke-width="1.2" stroke-linejoin="round" />
<path d="M1705.8 315.5L1705.8 368.8" fill="none" stroke="#c9c9cf" stroke-width="1.2" stroke-linejoin="round" />
<path d="M1772.5 343.7L1772.5 383.7" fill="none" stroke="#c9c9cf" stroke-width="1.2" stroke-linejoin="round" />
<path d="M1656.9 339.2L1702.9 315.5L1769.5 345.2" fill="none" stroke="#c9c9cf" stroke-width="1.2" stroke-linejoin="round" />
<path d="M1772.6 343.0L1772.6 384.4" fill="none" stroke="#c9c9cf" stroke-width="1.2" stroke-linejoin="round" />
<path d="M1834.8 371.8L1834.8 411.1" fill="none" stroke="#c9c9cf" stroke-width="1.2" stroke-linejoin="round" />
<path d="M1875.5 393.3L1875.5 437.7" fill="none" stroke="#c9c9cf" stroke-width="1.2" stroke-linejoin="round" />
<path d="M1879.9 394.8L1879.9 495.5" fill="none" stroke="#c9c9cf" stroke-width="1.2" stroke-linejoin="round" />
<path d="M1813.3 377.0L1813.3 477.7" fill="none" stroke="#c9c9cf" stroke-width="1.2" stroke-linejoin="round" />
<path d="M1821.4 431.8L1821.4 477.7" fill="none" stroke="#c9c9cf" stroke-width="1.2" stroke-linejoin="round" />
<path d="M1762.2 405.2L1762.2 480.7" fill="none" stroke="#c9c9cf" stroke-width="1.2" stroke-linejoin="round" />
<path d="M1739.2 473.3L1739.2 517.0" fill="none" stroke="#c9c9cf" stroke-width="1.2" stroke-linejoin="round" />
<path d="M1925.1 442.2L1925.1 458.5" fill="none" stroke="#c9c9cf" stroke-width="1.2" stroke-linejoin="round" />
<path d="M1834.8 411.1L1875.5 393.3" fill="none" stroke="#c9c9cf" stroke-width="1.2" stroke-linejoin="round" />
<path d="M1879.9 443.7L1925.1 422.9" fill="none" stroke="#c9c9cf" stroke-width="1.2" stroke-linejoin="round" />
<path d="M1685.1 439.2L1705.8 429.6L1741.4 447.3L1720.6 457.7L1685.1 439.2" fill="none" stroke="#c9c9cf" stroke-width="1.2" stroke-linejoin="round" />
<path d="M1685.1 439.2L1685.1 445.9L1720.6 464.4L1720.6 457.7" fill="none" stroke="#c9c9cf" stroke-width="1.2" stroke-linejoin="round" />
</g>
<g transform="translate(0 555.2)">
<path d="M792.4 523.2L982.9 404.4L1248.8 532.5L1193.3 568.1L1130.3 544.4L1069.6 579.9L918.2 512.4L849.5 549.7Z" fill="#9AE543"/>
<path d="M884.5 466.0L982.9 404.4L1024.0 423.0C1021.3 424.7 1012.8 429.0 1008.0 433.0C1003.2 437.0 996.3 442.8 995.0 447.0C993.7 451.2 996.2 454.8 1000.0 458.0C1003.8 461.2 1013.3 463.0 1018.0 466.0C1022.7 469.0 1024.3 473.7 1028.0 476.0C1031.7 478.3 1034.7 479.7 1040.0 480.0C1045.3 480.3 1053.7 479.7 1060.0 478.0C1066.3 476.3 1073.0 473.3 1078.0 470.0C1083.0 466.7 1087.3 459.9 1090.0 458.0C1092.7 456.1 1093.3 458.4 1094.0 458.5L1152.5 487.4C1149.0 488.6 1136.7 491.6 1131.8 494.8C1126.9 498.0 1124.8 503.7 1122.9 506.6C1121.1 509.6 1119.7 510.5 1120.7 512.5C1121.7 514.5 1125.0 516.3 1128.8 518.5C1132.6 520.7 1139.8 523.4 1143.7 525.9C1147.7 528.4 1151.5 531.1 1152.5 533.3C1153.5 535.5 1151.3 537.5 1149.6 539.2C1147.9 540.9 1145.4 542.7 1142.2 543.6C1139.0 544.5 1134.5 544.3 1130.3 544.4C1126.1 544.5 1119.3 546.2 1117.0 544.4C1114.7 542.5 1117.3 536.1 1116.3 533.3C1115.3 530.5 1113.9 528.6 1111.1 527.4C1108.2 526.2 1103.7 525.7 1099.2 525.9C1094.8 526.1 1088.5 528.9 1084.4 528.8C1080.3 528.7 1076.7 527.2 1074.7 525.1C1072.7 523.0 1073.5 518.9 1072.5 516.2C1071.5 513.5 1071.9 511.2 1068.8 508.8C1065.7 506.4 1059.0 503.8 1054.0 502.1C1049.0 500.4 1044.0 498.6 1039.1 498.4C1034.1 498.2 1028.2 501.4 1024.3 500.7C1020.4 500.0 1017.4 497.0 1015.5 494.0C1013.6 491.0 1015.4 485.9 1013.2 482.9C1011.0 479.9 1006.4 478.3 1002.1 476.2C997.8 474.1 992.2 470.8 987.3 470.3C982.4 469.8 977.4 473.1 972.5 473.3C967.6 473.6 962.5 472.7 957.7 471.8C953.0 470.9 948.6 468.0 944.0 468.0C939.4 468.0 934.8 471.7 930.0 472.0C925.2 472.3 920.0 470.0 915.0 470.0C910.0 470.0 905.1 472.7 900.0 472.0C894.9 471.3 887.1 467.0 884.5 466.0Z" fill="#969696"/>
<path d="M1204.0 511.0L1248.8 532.5L1228.1 548.1C1226.4 546.6 1221.9 541.7 1217.7 539.2C1213.5 536.7 1207.1 535.0 1202.9 533.3C1198.7 531.6 1194.5 530.8 1192.5 528.8C1190.5 526.8 1190.2 523.6 1191.0 521.4C1191.8 519.2 1194.8 517.2 1197.0 515.5C1199.2 513.8 1202.8 511.8 1204.0 511.0Z" fill="#969696"/>
<path d="M851.1 497.7L918.5 458.5L918.5 511.8L851.1 549.5Z" fill="#7fcf2e" opacity=".18"/>
<path d="M918.5 458.5L1068.8 528.1L1068.8 579.5L918.5 511.8Z" fill="#7fcf2e" opacity=".18"/>
<path d="M791.6 471.1L983.6 351.5L1030.3 371.8L1031.7 376.3L1126.2 420.2L1253.5 480.5" fill="none" stroke="#929292" stroke-width="1.3" stroke-linejoin="round" />
<path d="M791.6 471.1L791.6 538.9" fill="none" stroke="#929292" stroke-width="1.3" stroke-linejoin="round" />
<path d="M1253.5 480.5L1253.5 548.0" fill="none" stroke="#929292" stroke-width="1.3" stroke-linejoin="round" />
<path d="M1126.2 420.2L1210.8 367.3L1367.2 439.3L1367.2 490.1L1210.8 420.2L1173.3 442.4" fill="none" stroke="#929292" stroke-width="1.3" stroke-linejoin="round" />
<path d="M791.6 538.9L983.6 624.1L995.2 616.7L1136.7 682.1L1136.7 658.1L967.0 582.8L967.0 596.0L881.8 557.1L919.9 533.9L1063.0 600.1L1079.6 590.7L1125.1 613.4L1179.2 578.4L1193.3 585.1L1253.5 548.0" fill="none" stroke="#929292" stroke-width="1.3" stroke-linejoin="round" />
<path d="M1193.3 585.1L1193.3 520.0" fill="none" stroke="#929292" stroke-width="1.3" stroke-linejoin="round" />
<path d="M983.6 351.5L983.6 404.0" fill="none" stroke="#c9c9cf" stroke-width="1.2" stroke-linejoin="round" />
<path d="M1210.8 367.3L1210.8 420.2" fill="none" stroke="#c9c9cf" stroke-width="1.2" stroke-linejoin="round" />
<path d="M821.0 453.0L821.0 506.0" fill="none" stroke="#c9c9cf" stroke-width="1.2" stroke-linejoin="round" />
<path d="M913.5 395.0L913.5 448.0" fill="none" stroke="#c9c9cf" stroke-width="1.2" stroke-linejoin="round" />
<path d="M913.5 395.0L950.0 412.0" fill="none" stroke="#c9c9cf" stroke-width="1.2" stroke-linejoin="round" />
<path d="M1027.0 380.0L1027.0 425.0" fill="none" stroke="#c9c9cf" stroke-width="1.2" stroke-linejoin="round" />
<path d="M983.6 389.0L1027.0 365.0" fill="none" stroke="#c9c9cf" stroke-width="1.2" stroke-linejoin="round" />
<path d="M840.4 551.3L978.6 619.2" fill="none" stroke="#c9c9cf" stroke-width="1.2" stroke-linejoin="round" />
<path d="M918.2 512.4L918.2 533.0" fill="none" stroke="#c9c9cf" stroke-width="1.2" stroke-linejoin="round" />
<path d="M1063.0 579.0L1063.0 600.1" fill="none" stroke="#c9c9cf" stroke-width="1.2" stroke-linejoin="round" />
<path d="M1040.0 459.0L1090.0 435.0L1146.0 462.0" fill="none" stroke="#c9c9cf" stroke-width="1.2" stroke-linejoin="round" />
<path d="M1146.0 430.0L1146.0 488.0" fill="none" stroke="#c9c9cf" stroke-width="1.2" stroke-linejoin="round" />
<path d="M1085.0 418.0L1085.0 458.0" fill="none" stroke="#c9c9cf" stroke-width="1.2" stroke-linejoin="round" />
<path d="M1155.0 455.0L1155.0 486.0L1211.0 512.0L1211.0 480.0L1155.0 455.0" fill="none" stroke="#c9c9cf" stroke-width="1.2" stroke-linejoin="round" />
<path d="M1253.5 480.5L1193.0 516.0" fill="none" stroke="#c9c9cf" stroke-width="1.2" stroke-linejoin="round" />
<path d="M1183.0 448.0L1183.0 500.0" fill="none" stroke="#c9c9cf" stroke-width="1.2" stroke-linejoin="round" />
<path d="M1063.0 600.0L1063.0 582.9" fill="none" stroke="#c9c9cf" stroke-width="1.2" stroke-linejoin="round" />
<path d="M932.2 455.7L980.6 426.7L1012.8 441.2" fill="none" stroke="#6e6e6e" stroke-width="1.2" stroke-linejoin="round" opacity="0.45" />
<path d="M979.0 421.9L979.0 479.9" fill="none" stroke="#6e6e6e" stroke-width="1.2" stroke-linejoin="round" opacity="0.45" />
<path d="M996.7 410.6L996.7 428.3" fill="none" stroke="#6e6e6e" stroke-width="1.2" stroke-linejoin="round" opacity="0.45" />
<path d="M1085.3 470.2L1085.3 517.0" fill="none" stroke="#6e6e6e" stroke-width="1.2" stroke-linejoin="round" opacity="0.45" />
<path d="M1057.9 476.7L1057.9 562.0" fill="none" stroke="#6e6e6e" stroke-width="1.2" stroke-linejoin="round" opacity="0.45" />
<path d="M1012.8 441.2L1012.8 470.0" fill="none" stroke="#6e6e6e" stroke-width="1.2" stroke-linejoin="round" opacity="0.45" />
<path d="M791.6 471.1L851.1 497.7" fill="none" stroke="#929292" stroke-width="1.5" stroke-linejoin="round" />
<path d="M851.1 497.7L918.5 458.5L1068.8 528.1L1131.8 491.1L1188.1 517.0" fill="none" stroke="#4a4a4a" stroke-width="1.6" stroke-linejoin="round" opacity="0.8" />
<path d="M851.1 497.7L851.1 549.5" fill="none" stroke="#5f8a2c" stroke-width="1.3" stroke-linejoin="round" opacity="0.7" />
<path d="M918.5 458.5L918.5 511.8" fill="none" stroke="#5f8a2c" stroke-width="1.3" stroke-linejoin="round" opacity="0.7" />
<path d="M1068.8 528.1L1068.8 579.5" fill="none" stroke="#5f8a2c" stroke-width="1.3" stroke-linejoin="round" opacity="0.7" />
<path d="M944.0 474.3L944.0 519.3" fill="none" stroke="#6fb52a" stroke-width="1.1" stroke-linejoin="round" opacity="0.55" />
<path d="M960.0 481.7L960.0 526.5" fill="none" stroke="#6fb52a" stroke-width="1.1" stroke-linejoin="round" opacity="0.55" />
<path d="M975.0 488.7L975.0 533.2" fill="none" stroke="#6fb52a" stroke-width="1.1" stroke-linejoin="round" opacity="0.55" />
<path d="M995.0 497.9L995.0 542.3" fill="none" stroke="#6fb52a" stroke-width="1.1" stroke-linejoin="round" opacity="0.55" />
<path d="M1008.0 503.9L1008.0 548.1" fill="none" stroke="#6fb52a" stroke-width="1.1" stroke-linejoin="round" opacity="0.55" />
<path d="M1022.0 510.4L1022.0 554.4" fill="none" stroke="#6fb52a" stroke-width="1.1" stroke-linejoin="round" opacity="0.55" />
<path d="M1040.0 518.8L1040.0 562.5" fill="none" stroke="#6fb52a" stroke-width="1.1" stroke-linejoin="round" opacity="0.55" />
<path d="M1054.0 525.2L1054.0 568.8" fill="none" stroke="#6fb52a" stroke-width="1.1" stroke-linejoin="round" opacity="0.55" />
<path d="M858.0 546.0L858.0 508.0L869.0 502.0L869.0 540.0" fill="none" stroke="#6fb52a" stroke-width="1.1" stroke-linejoin="round" opacity="0.6" />

<path d="M941.0 476.0L973.0 491.0L973.0 527.0L941.0 513.0Z" fill="none" stroke="#7a5a14" stroke-width="2.0" stroke-linejoin="round" />
<path d="M941.0 502.0L973.0 517.0" fill="none" stroke="#7a5a14" stroke-width="1.6" stroke-linejoin="round" />
<path d="M978.0 492.0L996.0 500.0L996.0 536.0L978.0 528.0Z" fill="none" stroke="#7a5a14" stroke-width="2.0" stroke-linejoin="round" />
<path d="M978.0 518.0L996.0 526.0" fill="none" stroke="#7a5a14" stroke-width="1.6" stroke-linejoin="round" />
<path d="M1024.0 512.0L1060.0 529.0L1060.0 563.0L1024.0 548.0Z" fill="none" stroke="#7a5a14" stroke-width="2.0" stroke-linejoin="round" />
<path d="M1024.0 538.0L1060.0 555.0" fill="none" stroke="#7a5a14" stroke-width="1.6" stroke-linejoin="round" />
<path d="M1468.3 456.5L1468.3 522.3L1659.4 608.3L1675.0 602.8L1814.0 668.7L1814.0 643.0L1646.6 568.0L1646.6 580.9L1560.7 541.5L1599.1 519.6L1740.9 584.5L1754.6 576.3L1803.0 597.3L1932.0 528.6L1932.0 480.0" fill="none" stroke="#d9d9d9" stroke-width="1.3" stroke-linejoin="round" />
<path d="M1855.5 371.8L1888.8 353.3L2044.9 425.5L2044.9 476.2L1943.0 430.5" fill="none" stroke="#d9d9d9" stroke-width="1.3" stroke-linejoin="round" />
<path d="M1888.8 353.3L1888.8 363.7" fill="none" stroke="#d9d9d9" stroke-width="1.3" stroke-linejoin="round" />
<path d="M1471.1 455.8L1507.4 432.5L1531.1 442.6L1548.8 442.9L1610.3 409.1L1633.3 397.7L1651.8 408.5L1597.0 442.9L1529.6 483.6Z" fill="#C6EE9A"/>
<path d="M1610.3 409.1L1633.3 397.7L1651.8 408.5L1633.3 422.2L1625.9 422.2Z" fill="#B6B6B8"/>
<path d="M1471.1 455.8L1489.6 444.1L1496.3 450.3L1485.2 461.4Z" fill="#B6B6B8"/>
<path d="M1536.3 450.3L1547.4 445.1L1547.4 465.1L1536.3 470.6Z" fill="#93DE3E"/>
<path d="M1575.5 391.1L1631.8 357.7L1654.0 340.0L1665.5 341.5L1700.0 359.0L1771.1 388.9L1833.3 415.5L1885.1 442.2L1862.9 449.9L1848.1 452.8L1827.4 471.8L1814.0 477.7L1791.8 473.3L1788.8 457.0L1765.2 458.5L1762.2 434.8L1782.9 428.8L1762.2 411.1L1741.5 409.6L1711.7 390.3L1679.2 375.1L1671.0 375.1L1633.3 397.7L1610.3 409.1L1594.0 398.5Z" fill="#B6B6B8"/>
<path d="M1575.5 391.1L1631.8 357.7L1631.8 369.6L1594.0 398.5Z" fill="#9B9B9B"/>
<path d="M1885.1 442.2L1898.4 447.4L1907.3 452.8L1848.1 470.3L1827.4 471.8L1848.1 452.8L1862.9 449.9Z" fill="#B6B6B8"/>
<path d="M1907.3 457.0L1925.1 452.8L1939.9 465.9L1931.0 472.1L1910.3 473.3Z" fill="#B6B6B8"/>
<path d="M1762.2 434.8L1782.9 427.4L1797.7 436.3L1766.6 457.0L1762.2 455.5Z" fill="#8e8e90"/>
<path d="M1588.8 384.0C1591.2 381.4 1600.9 376.3 1608.1 371.8C1615.2 367.4 1626.5 358.8 1631.8 357.3C1637.1 355.8 1639.3 360.0 1639.9 362.9C1640.5 365.8 1638.6 371.6 1635.5 374.8C1632.4 378.0 1626.0 380.2 1621.4 382.2C1616.8 384.2 1612.6 386.1 1608.1 386.9C1603.5 387.7 1597.2 387.4 1594.0 386.9C1590.8 386.4 1586.5 386.5 1588.8 384.0Z" fill="#93DE3E"/>
<path d="M1679.2 375.1L1702.9 362.9L1723.6 372.1L1711.7 384.0L1705.8 386.9Z" fill="#C6EE9A"/>
<path d="M1710.4 425.9L1737.0 411.1L1771.1 414.0L1777.0 425.9L1762.2 434.8L1762.2 452.5L1744.4 449.9Z" fill="#C6EE9A"/>
<path d="M1735.8 416.3C1737.8 411.9 1743.2 411.7 1748.9 411.4C1754.5 411.0 1764.9 412.1 1769.6 414.0C1774.3 416.0 1778.1 419.5 1777.0 422.9C1775.9 426.4 1765.9 430.8 1762.9 434.8C1760.0 438.8 1761.6 444.4 1759.2 446.9C1756.9 449.4 1752.6 451.4 1748.9 449.9C1745.2 448.3 1739.2 443.3 1737.0 437.7C1734.8 432.1 1733.9 420.7 1735.8 416.3Z" fill="#93DE3E"/>
<path d="M1802.2 412.9C1803.7 410.6 1808.6 408.1 1812.5 408.1C1816.5 408.1 1825.7 410.4 1825.9 412.9C1826.0 415.3 1817.0 421.5 1813.3 422.9C1809.6 424.4 1805.5 423.1 1803.7 421.4C1801.8 419.8 1800.7 415.1 1802.2 412.9Z" fill="#93DE3E"/>
<path d="M1707.4 471.8L1734.1 458.5L1750.3 465.9L1740.0 473.3L1739.2 485.1Z" fill="#93DE3E"/>
<path d="M1763.7 468.8L1788.8 459.9L1788.8 489.6L1763.7 480.7Z" fill="#93DE3E"/>
<path d="M1814.0 477.7L1848.1 470.3L1907.3 452.8L1886.6 463.6L1874.7 465.9L1837.7 485.9Z" fill="#C6EE9A"/>
<path d="M1707.4 471.8L1734.1 458.5L1763.7 468.8L1788.8 459.9L1814.0 477.7L1804.4 499.9L1739.2 473.3L1739.2 485.1Z" fill="#cdf0a8"/>
<path d="M1739.5 471.5L1764.0 466.9L1788.6 455.2L1792.1 483.8L1813.2 472.1L1822.5 475.6L1833.1 483.8L1803.8 499.0Z" fill="#d2f2b0"/>
<path d="M1788.8 488.1L1814.0 477.7L1833.3 482.2L1837.7 485.9L1804.4 499.9Z" fill="#93DE3E"/>
<path d="M1763.7 468.8L1788.8 459.9L1788.8 489.6L1763.7 480.7Z" fill="#93DE3E"/>
<path d="M1739.2 473.3L1804.4 499.2L1804.4 547.3L1744.4 519.9L1760.7 504.4L1739.2 495.5Z" fill="#C6EE9A"/>
<path d="M1804.4 499.2L1877.7 458.5L1895.5 446.9L1925.1 442.5L1936.9 467.4L1804.4 547.3Z" fill="#C6EE9A"/>
<path d="M1794.8 543.6L1804.4 538.7L1818.5 540.7L1804.4 549.4Z" fill="#B6B6B8"/>
<path d="M1922.1 462.9L1939.9 465.3L1931.0 472.1Z" fill="#B6B6B8"/>
<path d="M1815.5 510.3L1837.0 498.4L1837.0 517.0L1815.5 528.8Z" fill="#93DE3E"/>
<path d="M1851.8 489.6L1871.8 478.5L1871.8 495.5L1851.8 505.9Z" fill="#93DE3E"/>
<path d="M1887.3 469.1L1907.3 457.0L1907.3 471.8L1887.3 484.4Z" fill="#93DE3E"/>
<path d="M1887.3 469.1L1907.3 457.0L1907.3 471.8L1887.3 484.4Z" fill="none" stroke="#6b3a10" stroke-width="1.8" stroke-linejoin="round" />
<path d="M1705.9 471.1L1739.2 485.9" fill="none" stroke="#8a5a10" stroke-width="1.8" stroke-linejoin="round" />
<path d="M1511.1 397.0L1542.2 377.0L1542.2 394.0L1511.1 412.5Z" fill="none" stroke="#d9534f" stroke-width="1.5" stroke-linejoin="round" />
<path d="M1553.3 370.3L1553.3 403.6L1511.1 428.1L1511.1 412.5" fill="none" stroke="#d9534f" stroke-width="1.5" stroke-linejoin="round" stroke-dasharray="7 5"/>
<path d="M1703.0 442.2L1717.8 448.8L1737.0 458.5L1751.8 465.9" fill="none" stroke="#d9534f" stroke-width="1.3" stroke-linejoin="round" stroke-dasharray="6 6"/>
<path d="M1907.3 454.0L1922.1 443.7L1925.8 446.6L1925.8 462.9" fill="none" stroke="#d9534f" stroke-width="1.2" stroke-linejoin="round" stroke-dasharray="5 4"/>
<path d="M1468.9 456.2L1468.9 408.1L1656.9 291.1L1772.5 340.0L1772.5 343.7L1942.1 418.5L1942.1 465.9L1804.4 549.5" fill="none" stroke="#939393" stroke-width="1.25" stroke-linejoin="round" />
<path d="M1468.9 456.2L1529.6 484.4L1597.0 443.6L1658.4 472.5L1658.4 484.4L1804.4 549.5" fill="none" stroke="#939393" stroke-width="1.25" stroke-linejoin="round" />
<path d="M1656.9 291.1L1656.9 345.2" fill="none" stroke="#c9c9cf" stroke-width="1.2" stroke-linejoin="round" />
<path d="M1804.4 498.4L1804.4 549.5" fill="none" stroke="#c9c9cf" stroke-width="1.2" stroke-linejoin="round" />
<path d="M1531.1 437.0L1531.1 482.9" fill="none" stroke="#c9c9cf" stroke-width="1.2" stroke-linejoin="round" />
<path d="M1511.8 397.0L1553.3 370.3L1553.3 402.9L1511.8 429.6L1511.8 397.0" fill="none" stroke="#c9c9cf" stroke-width="1.2" stroke-linejoin="round" />
<path d="M1595.5 357.0L1624.4 342.2L1624.4 360.0" fill="none" stroke="#c9c9cf" stroke-width="1.2" stroke-linejoin="round" />
<path d="M1595.5 357.0L1595.5 374.8" fill="none" stroke="#c9c9cf" stroke-width="1.2" stroke-linejoin="round" />
<path d="M1705.8 315.5L1705.8 368.8" fill="none" stroke="#c9c9cf" stroke-width="1.2" stroke-linejoin="round" />
<path d="M1772.5 343.7L1772.5 383.7" fill="none" stroke="#c9c9cf" stroke-width="1.2" stroke-linejoin="round" />
<path d="M1656.9 339.2L1702.9 315.5L1769.5 345.2" fill="none" stroke="#c9c9cf" stroke-width="1.2" stroke-linejoin="round" />
<path d="M1772.6 343.0L1772.6 384.4" fill="none" stroke="#c9c9cf" stroke-width="1.2" stroke-linejoin="round" />
<path d="M1834.8 371.8L1834.8 411.1" fill="none" stroke="#c9c9cf" stroke-width="1.2" stroke-linejoin="round" />
<path d="M1875.5 393.3L1875.5 437.7" fill="none" stroke="#c9c9cf" stroke-width="1.2" stroke-linejoin="round" />
<path d="M1879.9 394.8L1879.9 495.5" fill="none" stroke="#c9c9cf" stroke-width="1.2" stroke-linejoin="round" />
<path d="M1813.3 377.0L1813.3 477.7" fill="none" stroke="#c9c9cf" stroke-width="1.2" stroke-linejoin="round" />
<path d="M1821.4 431.8L1821.4 477.7" fill="none" stroke="#c9c9cf" stroke-width="1.2" stroke-linejoin="round" />
<path d="M1762.2 405.2L1762.2 480.7" fill="none" stroke="#c9c9cf" stroke-width="1.2" stroke-linejoin="round" />
<path d="M1739.2 473.3L1739.2 517.0" fill="none" stroke="#c9c9cf" stroke-width="1.2" stroke-linejoin="round" />
<path d="M1925.1 442.2L1925.1 458.5" fill="none" stroke="#c9c9cf" stroke-width="1.2" stroke-linejoin="round" />
<path d="M1834.8 411.1L1875.5 393.3" fill="none" stroke="#c9c9cf" stroke-width="1.2" stroke-linejoin="round" />
<path d="M1879.9 443.7L1925.1 422.9" fill="none" stroke="#c9c9cf" stroke-width="1.2" stroke-linejoin="round" />
<path d="M1685.1 439.2L1705.8 429.6L1741.4 447.3L1720.6 457.7L1685.1 439.2" fill="none" stroke="#c9c9cf" stroke-width="1.2" stroke-linejoin="round" />
<path d="M1685.1 439.2L1685.1 445.9L1720.6 464.4L1720.6 457.7" fill="none" stroke="#c9c9cf" stroke-width="1.2" stroke-linejoin="round" />
</g>
<g transform="translate(0 1106.1)">
<path d="M792.4 523.2L982.9 404.4L1248.8 532.5L1193.3 568.1L1130.3 544.4L1069.6 579.9L918.2 512.4L849.5 549.7Z" fill="#9AE543"/>
<path d="M890.0 462.6L982.9 404.4L1028.8 425.1C1026.8 426.2 1020.0 429.0 1016.9 431.8C1013.8 434.6 1010.8 439.0 1010.3 442.2C1009.8 445.4 1010.9 448.0 1014.0 451.1C1017.1 454.2 1023.9 457.8 1028.8 460.7C1033.7 463.6 1039.4 466.3 1043.6 468.8C1047.8 471.3 1050.2 475.2 1053.9 475.5C1057.6 475.8 1060.6 473.1 1065.8 470.3C1071.0 467.5 1081.2 460.9 1085.0 458.5C1088.8 456.1 1088.2 456.6 1088.8 456.2L1152.5 487.4C1149.0 488.6 1136.7 491.6 1131.8 494.8C1126.9 498.0 1124.8 503.7 1122.9 506.6C1121.1 509.6 1119.7 510.5 1120.7 512.5C1121.7 514.5 1125.0 516.3 1128.8 518.5C1132.6 520.7 1139.8 523.4 1143.7 525.9C1147.7 528.4 1151.5 531.1 1152.5 533.3C1153.5 535.5 1151.3 537.5 1149.6 539.2C1147.9 540.9 1145.4 542.7 1142.2 543.6C1139.0 544.5 1134.5 544.3 1130.3 544.4C1126.1 544.5 1119.3 546.2 1117.0 544.4C1114.7 542.5 1117.3 536.1 1116.3 533.3C1115.3 530.5 1113.9 528.6 1111.1 527.4C1108.2 526.2 1103.7 525.7 1099.2 525.9C1094.8 526.1 1088.5 528.9 1084.4 528.8C1080.3 528.7 1076.7 527.2 1074.7 525.1C1072.7 523.0 1073.5 518.9 1072.5 516.2C1071.5 513.5 1071.9 511.2 1068.8 508.8C1065.7 506.4 1059.0 503.8 1054.0 502.1C1049.0 500.4 1044.0 498.6 1039.1 498.4C1034.1 498.2 1028.2 501.4 1024.3 500.7C1020.4 500.0 1017.4 497.0 1015.5 494.0C1013.6 491.0 1015.4 485.9 1013.2 482.9C1011.0 479.9 1006.4 478.3 1002.1 476.2C997.8 474.1 992.2 470.8 987.3 470.3C982.4 469.8 977.4 473.1 972.5 473.3C967.6 473.6 962.6 473.0 957.7 471.8C952.8 470.6 948.2 467.5 942.9 465.9C937.6 464.3 931.1 461.8 926.0 462.0C920.9 462.2 916.3 466.3 912.0 467.0C907.7 467.7 903.7 466.7 900.0 466.0C896.3 465.3 891.7 463.2 890.0 462.6Z" fill="#969696"/>
<path d="M1204.0 511.0L1248.8 532.5L1228.1 548.1C1226.4 546.6 1221.9 541.7 1217.7 539.2C1213.5 536.7 1207.1 535.0 1202.9 533.3C1198.7 531.6 1194.5 530.8 1192.5 528.8C1190.5 526.8 1190.2 523.6 1191.0 521.4C1191.8 519.2 1194.8 517.2 1197.0 515.5C1199.2 513.8 1202.8 511.8 1204.0 511.0Z" fill="#969696"/>
<path d="M851.1 497.7L918.5 458.5L918.5 511.8L851.1 549.5Z" fill="#7fcf2e" opacity=".18"/>
<path d="M918.5 458.5L1068.8 528.1L1068.8 579.5L918.5 511.8Z" fill="#7fcf2e" opacity=".18"/>
<path d="M791.6 471.1L983.6 351.5L1030.3 371.8L1031.7 376.3L1126.2 420.2L1253.5 480.5" fill="none" stroke="#929292" stroke-width="1.3" stroke-linejoin="round" />
<path d="M791.6 471.1L791.6 538.9" fill="none" stroke="#929292" stroke-width="1.3" stroke-linejoin="round" />
<path d="M1253.5 480.5L1253.5 548.0" fill="none" stroke="#929292" stroke-width="1.3" stroke-linejoin="round" />
<path d="M1126.2 420.2L1210.8 367.3L1367.2 439.3L1367.2 490.1L1210.8 420.2L1173.3 442.4" fill="none" stroke="#929292" stroke-width="1.3" stroke-linejoin="round" />
<path d="M791.6 538.9L983.6 624.1L995.2 616.7L1136.7 682.1L1136.7 658.1L967.0 582.8L967.0 596.0L881.8 557.1L919.9 533.9L1063.0 600.1L1079.6 590.7L1125.1 613.4L1179.2 578.4L1193.3 585.1L1253.5 548.0" fill="none" stroke="#929292" stroke-width="1.3" stroke-linejoin="round" />
<path d="M1193.3 585.1L1193.3 520.0" fill="none" stroke="#929292" stroke-width="1.3" stroke-linejoin="round" />
<path d="M983.6 351.5L983.6 404.0" fill="none" stroke="#c9c9cf" stroke-width="1.2" stroke-linejoin="round" />
<path d="M1210.8 367.3L1210.8 420.2" fill="none" stroke="#c9c9cf" stroke-width="1.2" stroke-linejoin="round" />
<path d="M821.0 453.0L821.0 506.0" fill="none" stroke="#c9c9cf" stroke-width="1.2" stroke-linejoin="round" />
<path d="M913.5 395.0L913.5 448.0" fill="none" stroke="#c9c9cf" stroke-width="1.2" stroke-linejoin="round" />
<path d="M913.5 395.0L950.0 412.0" fill="none" stroke="#c9c9cf" stroke-width="1.2" stroke-linejoin="round" />
<path d="M1027.0 380.0L1027.0 425.0" fill="none" stroke="#c9c9cf" stroke-width="1.2" stroke-linejoin="round" />
<path d="M983.6 389.0L1027.0 365.0" fill="none" stroke="#c9c9cf" stroke-width="1.2" stroke-linejoin="round" />
<path d="M840.4 551.3L978.6 619.2" fill="none" stroke="#c9c9cf" stroke-width="1.2" stroke-linejoin="round" />
<path d="M918.2 512.4L918.2 533.0" fill="none" stroke="#c9c9cf" stroke-width="1.2" stroke-linejoin="round" />
<path d="M1063.0 579.0L1063.0 600.1" fill="none" stroke="#c9c9cf" stroke-width="1.2" stroke-linejoin="round" />
<path d="M1040.0 459.0L1090.0 435.0L1146.0 462.0" fill="none" stroke="#c9c9cf" stroke-width="1.2" stroke-linejoin="round" />
<path d="M1146.0 430.0L1146.0 488.0" fill="none" stroke="#c9c9cf" stroke-width="1.2" stroke-linejoin="round" />
<path d="M1085.0 418.0L1085.0 458.0" fill="none" stroke="#c9c9cf" stroke-width="1.2" stroke-linejoin="round" />
<path d="M1155.0 455.0L1155.0 486.0L1211.0 512.0L1211.0 480.0L1155.0 455.0" fill="none" stroke="#c9c9cf" stroke-width="1.2" stroke-linejoin="round" />
<path d="M1253.5 480.5L1193.0 516.0" fill="none" stroke="#c9c9cf" stroke-width="1.2" stroke-linejoin="round" />
<path d="M1183.0 448.0L1183.0 500.0" fill="none" stroke="#c9c9cf" stroke-width="1.2" stroke-linejoin="round" />
<path d="M1063.0 600.0L1063.0 582.9" fill="none" stroke="#c9c9cf" stroke-width="1.2" stroke-linejoin="round" />
<path d="M932.2 455.7L980.6 426.7L1012.8 441.2" fill="none" stroke="#6e6e6e" stroke-width="1.2" stroke-linejoin="round" opacity="0.45" />
<path d="M979.0 421.9L979.0 479.9" fill="none" stroke="#6e6e6e" stroke-width="1.2" stroke-linejoin="round" opacity="0.45" />
<path d="M996.7 410.6L996.7 428.3" fill="none" stroke="#6e6e6e" stroke-width="1.2" stroke-linejoin="round" opacity="0.45" />
<path d="M1085.3 470.2L1085.3 517.0" fill="none" stroke="#6e6e6e" stroke-width="1.2" stroke-linejoin="round" opacity="0.45" />
<path d="M1057.9 476.7L1057.9 562.0" fill="none" stroke="#6e6e6e" stroke-width="1.2" stroke-linejoin="round" opacity="0.45" />
<path d="M1012.8 441.2L1012.8 470.0" fill="none" stroke="#6e6e6e" stroke-width="1.2" stroke-linejoin="round" opacity="0.45" />
<path d="M791.6 471.1L851.1 497.7" fill="none" stroke="#929292" stroke-width="1.5" stroke-linejoin="round" />
<path d="M851.1 497.7L918.5 458.5L1068.8 528.1L1131.8 491.1L1188.1 517.0" fill="none" stroke="#4a4a4a" stroke-width="1.6" stroke-linejoin="round" opacity="0.8" />
<path d="M851.1 497.7L851.1 549.5" fill="none" stroke="#5f8a2c" stroke-width="1.3" stroke-linejoin="round" opacity="0.7" />
<path d="M918.5 458.5L918.5 511.8" fill="none" stroke="#5f8a2c" stroke-width="1.3" stroke-linejoin="round" opacity="0.7" />
<path d="M1068.8 528.1L1068.8 579.5" fill="none" stroke="#5f8a2c" stroke-width="1.3" stroke-linejoin="round" opacity="0.7" />
<path d="M944.0 474.3L944.0 519.3" fill="none" stroke="#6fb52a" stroke-width="1.1" stroke-linejoin="round" opacity="0.55" />
<path d="M960.0 481.7L960.0 526.5" fill="none" stroke="#6fb52a" stroke-width="1.1" stroke-linejoin="round" opacity="0.55" />
<path d="M975.0 488.7L975.0 533.2" fill="none" stroke="#6fb52a" stroke-width="1.1" stroke-linejoin="round" opacity="0.55" />
<path d="M995.0 497.9L995.0 542.3" fill="none" stroke="#6fb52a" stroke-width="1.1" stroke-linejoin="round" opacity="0.55" />
<path d="M1008.0 503.9L1008.0 548.1" fill="none" stroke="#6fb52a" stroke-width="1.1" stroke-linejoin="round" opacity="0.55" />
<path d="M1022.0 510.4L1022.0 554.4" fill="none" stroke="#6fb52a" stroke-width="1.1" stroke-linejoin="round" opacity="0.55" />
<path d="M1040.0 518.8L1040.0 562.5" fill="none" stroke="#6fb52a" stroke-width="1.1" stroke-linejoin="round" opacity="0.55" />
<path d="M1054.0 525.2L1054.0 568.8" fill="none" stroke="#6fb52a" stroke-width="1.1" stroke-linejoin="round" opacity="0.55" />
<path d="M858.0 546.0L858.0 508.0L869.0 502.0L869.0 540.0" fill="none" stroke="#6fb52a" stroke-width="1.1" stroke-linejoin="round" opacity="0.6" />

<path d="M976.0 490.0L995.0 499.0L995.0 537.0L976.0 528.0Z" fill="none" stroke="#7a5a14" stroke-width="1.6" stroke-linejoin="round" stroke-dasharray="5 3"/>
<path d="M1468.3 456.5L1468.3 522.3L1659.4 608.3L1675.0 602.8L1814.0 668.7L1814.0 643.0L1646.6 568.0L1646.6 580.9L1560.7 541.5L1599.1 519.6L1740.9 584.5L1754.6 576.3L1803.0 597.3L1932.0 528.6L1932.0 480.0" fill="none" stroke="#d9d9d9" stroke-width="1.3" stroke-linejoin="round" />
<path d="M1855.5 371.8L1888.8 353.3L2044.9 425.5L2044.9 476.2L1943.0 430.5" fill="none" stroke="#d9d9d9" stroke-width="1.3" stroke-linejoin="round" />
<path d="M1888.8 353.3L1888.8 363.7" fill="none" stroke="#d9d9d9" stroke-width="1.3" stroke-linejoin="round" />
<path d="M1471.1 455.8L1507.4 432.5L1531.1 442.6L1548.8 442.9L1610.3 409.1L1633.3 397.7L1651.8 408.5L1597.0 442.9L1529.6 483.6Z" fill="#B6B6B8"/>
<path d="M1554.8 441.7L1597.0 419.9L1614.7 428.5L1571.1 454.7L1563.7 455.5Z" fill="#C6EE9A"/>
<path d="M1514.8 440.7L1529.6 441.7L1529.6 446.1L1519.2 444.7Z" fill="#C6EE9A"/>
<path d="M1536.3 450.3L1547.4 445.1L1547.4 465.1L1536.3 470.6Z" fill="#8d8282"/>
<path d="M1575.5 391.1L1631.8 357.7L1654.0 340.0L1665.5 341.5L1700.0 359.0L1771.1 388.9L1833.3 415.5L1885.1 442.2L1862.9 449.9L1848.1 452.8L1827.4 471.8L1814.0 477.7L1791.8 473.3L1788.8 457.0L1765.2 458.5L1762.2 434.8L1782.9 428.8L1762.2 411.1L1741.5 409.6L1711.7 390.3L1679.2 375.1L1671.0 375.1L1633.3 397.7L1610.3 409.1L1594.0 398.5Z" fill="#B6B6B8"/>
<path d="M1575.5 391.1L1631.8 357.7L1631.8 369.6L1594.0 398.5Z" fill="#9B9B9B"/>
<path d="M1762.2 434.8L1782.9 427.4L1797.7 436.3L1766.6 457.0L1762.2 455.5Z" fill="#8e8e90"/>
<path d="M1682.1 375.1L1702.9 362.3L1712.5 367.4L1691.0 379.5Z" fill="#C6EE9A"/>
<path d="M1710.4 425.9L1737.0 411.1L1771.1 414.0L1777.0 425.9L1762.2 434.8L1762.2 452.5L1744.4 449.9Z" fill="#C6EE9A"/>
<path d="M1735.8 416.3C1737.8 411.9 1743.2 411.7 1748.9 411.4C1754.5 411.0 1764.9 412.1 1769.6 414.0C1774.3 416.0 1778.1 419.5 1777.0 422.9C1775.9 426.4 1765.9 430.8 1762.9 434.8C1760.0 438.8 1761.6 444.4 1759.2 446.9C1756.9 449.4 1752.6 451.4 1748.9 449.9C1745.2 448.3 1739.2 443.3 1737.0 437.7C1734.8 432.1 1733.9 420.7 1735.8 416.3Z" fill="#93DE3E"/>
<path d="M1802.2 412.9C1803.7 410.6 1808.6 408.1 1812.5 408.1C1816.5 408.1 1825.7 410.4 1825.9 412.9C1826.0 415.3 1817.0 421.5 1813.3 422.9C1809.6 424.4 1805.5 423.1 1803.7 421.4C1801.8 419.8 1800.7 415.1 1802.2 412.9Z" fill="#93DE3E"/>
<path d="M1707.4 471.8L1734.1 458.5L1750.3 465.9L1740.0 473.3L1739.2 485.1Z" fill="#93DE3E"/>
<path d="M1763.7 468.8L1788.8 459.9L1788.8 489.6L1763.7 480.7Z" fill="#93DE3E"/>
<path d="M1814.0 477.7L1827.4 471.8L1848.1 452.8L1862.9 449.9L1885.1 442.2L1896.9 446.9L1925.1 458.5L1877.7 463.2L1874.7 465.9L1837.7 485.9Z" fill="#C6EE9A"/>
<path d="M1865.9 448.4L1885.1 442.2L1897.7 446.9L1877.7 457.3Z" fill="#93DE3E"/>
<path d="M1707.4 471.8L1734.1 458.5L1763.7 468.8L1788.8 459.9L1814.0 477.7L1804.4 499.9L1739.2 473.3L1739.2 485.1Z" fill="#cdf0a8"/>
<path d="M1739.5 471.5L1764.0 466.9L1788.6 455.2L1792.1 483.8L1813.2 472.1L1822.5 475.6L1833.1 483.8L1803.8 499.0Z" fill="#d2f2b0"/>
<path d="M1788.8 488.1L1814.0 477.7L1833.3 482.2L1837.7 485.9L1804.4 499.9Z" fill="#93DE3E"/>
<path d="M1763.7 468.8L1788.8 459.9L1788.8 489.6L1763.7 480.7Z" fill="#93DE3E"/>
<path d="M1739.2 473.3L1804.4 499.2L1804.4 547.3L1744.4 519.9L1760.7 504.4L1739.2 495.5Z" fill="#C6EE9A"/>
<path d="M1804.4 499.2L1877.7 458.5L1895.5 446.9L1925.1 442.5L1936.9 467.4L1804.4 547.3Z" fill="#C6EE9A"/>
<path d="M1794.8 543.6L1804.4 538.7L1818.5 540.7L1804.4 549.4Z" fill="#B6B6B8"/>
<path d="M1922.1 462.9L1939.9 465.3L1931.0 472.1Z" fill="#B6B6B8"/>
<path d="M1815.5 510.3L1837.0 498.4L1837.0 517.0L1815.5 528.8Z" fill="#93DE3E"/>
<path d="M1851.8 489.6L1871.8 478.5L1871.8 495.5L1851.8 505.9Z" fill="#93DE3E"/>
<path d="M1887.3 470.0L1919.2 454.8L1925.1 458.5L1888.1 483.6Z" fill="#93DE3E"/>
<path d="M1596.2 376.3L1596.2 360.0L1623.6 343.7L1623.6 360.0" fill="none" stroke="#e07070" stroke-width="1.4" stroke-linejoin="round" stroke-dasharray="5 4"/>
<path d="M1536.3 471.0L1536.3 448.8L1547.4 443.6L1547.4 465.1" fill="none" stroke="#e07070" stroke-width="1.3" stroke-linejoin="round" stroke-dasharray="5 4"/>
<path d="M1468.9 456.2L1468.9 408.1L1656.9 291.1L1772.5 340.0L1772.5 343.7L1942.1 418.5L1942.1 465.9L1804.4 549.5" fill="none" stroke="#939393" stroke-width="1.25" stroke-linejoin="round" />
<path d="M1468.9 456.2L1529.6 484.4L1597.0 443.6L1658.4 472.5L1658.4 484.4L1804.4 549.5" fill="none" stroke="#939393" stroke-width="1.25" stroke-linejoin="round" />
<path d="M1656.9 291.1L1656.9 345.2" fill="none" stroke="#c9c9cf" stroke-width="1.2" stroke-linejoin="round" />
<path d="M1804.4 498.4L1804.4 549.5" fill="none" stroke="#c9c9cf" stroke-width="1.2" stroke-linejoin="round" />
<path d="M1531.1 437.0L1531.1 482.9" fill="none" stroke="#c9c9cf" stroke-width="1.2" stroke-linejoin="round" />
<path d="M1511.8 397.0L1553.3 370.3L1553.3 402.9L1511.8 429.6L1511.8 397.0" fill="none" stroke="#c9c9cf" stroke-width="1.2" stroke-linejoin="round" />
<path d="M1595.5 357.0L1624.4 342.2L1624.4 360.0" fill="none" stroke="#c9c9cf" stroke-width="1.2" stroke-linejoin="round" />
<path d="M1595.5 357.0L1595.5 374.8" fill="none" stroke="#c9c9cf" stroke-width="1.2" stroke-linejoin="round" />
<path d="M1705.8 315.5L1705.8 368.8" fill="none" stroke="#c9c9cf" stroke-width="1.2" stroke-linejoin="round" />
<path d="M1772.5 343.7L1772.5 383.7" fill="none" stroke="#c9c9cf" stroke-width="1.2" stroke-linejoin="round" />
<path d="M1656.9 339.2L1702.9 315.5L1769.5 345.2" fill="none" stroke="#c9c9cf" stroke-width="1.2" stroke-linejoin="round" />
<path d="M1772.6 343.0L1772.6 384.4" fill="none" stroke="#c9c9cf" stroke-width="1.2" stroke-linejoin="round" />
<path d="M1834.8 371.8L1834.8 411.1" fill="none" stroke="#c9c9cf" stroke-width="1.2" stroke-linejoin="round" />
<path d="M1875.5 393.3L1875.5 437.7" fill="none" stroke="#c9c9cf" stroke-width="1.2" stroke-linejoin="round" />
<path d="M1879.9 394.8L1879.9 495.5" fill="none" stroke="#c9c9cf" stroke-width="1.2" stroke-linejoin="round" />
<path d="M1813.3 377.0L1813.3 477.7" fill="none" stroke="#c9c9cf" stroke-width="1.2" stroke-linejoin="round" />
<path d="M1821.4 431.8L1821.4 477.7" fill="none" stroke="#c9c9cf" stroke-width="1.2" stroke-linejoin="round" />
<path d="M1762.2 405.2L1762.2 480.7" fill="none" stroke="#c9c9cf" stroke-width="1.2" stroke-linejoin="round" />
<path d="M1739.2 473.3L1739.2 517.0" fill="none" stroke="#c9c9cf" stroke-width="1.2" stroke-linejoin="round" />
<path d="M1925.1 442.2L1925.1 458.5" fill="none" stroke="#c9c9cf" stroke-width="1.2" stroke-linejoin="round" />
<path d="M1834.8 411.1L1875.5 393.3" fill="none" stroke="#c9c9cf" stroke-width="1.2" stroke-linejoin="round" />
<path d="M1879.9 443.7L1925.1 422.9" fill="none" stroke="#c9c9cf" stroke-width="1.2" stroke-linejoin="round" />
<path d="M1685.1 439.2L1705.8 429.6L1741.4 447.3L1720.6 457.7L1685.1 439.2" fill="none" stroke="#c9c9cf" stroke-width="1.2" stroke-linejoin="round" />
<path d="M1685.1 439.2L1685.1 445.9L1720.6 464.4L1720.6 457.7" fill="none" stroke="#c9c9cf" stroke-width="1.2" stroke-linejoin="round" />
</g>
<g transform="translate(0 1656.1)">
<path d="M792.4 523.2L982.9 404.4L1248.8 532.5L1193.3 568.1L1130.3 544.4L1069.6 579.9L918.2 512.4L849.5 549.7Z" fill="#9AE543"/>
<path d="M868.0 476.3L982.9 404.4L1028.8 425.1C1026.8 426.2 1020.0 429.0 1016.9 431.8C1013.8 434.6 1010.8 439.0 1010.3 442.2C1009.8 445.4 1010.9 448.0 1014.0 451.1C1017.1 454.2 1023.9 457.8 1028.8 460.7C1033.7 463.6 1039.4 466.3 1043.6 468.8C1047.8 471.3 1050.2 475.2 1053.9 475.5C1057.6 475.8 1060.6 473.1 1065.8 470.3C1071.0 467.5 1081.2 460.9 1085.0 458.5C1088.8 456.1 1088.2 456.6 1088.8 456.2L1152.5 487.4C1149.0 488.6 1136.7 491.6 1131.8 494.8C1126.9 498.0 1124.8 503.7 1122.9 506.6C1121.1 509.6 1119.7 510.5 1120.7 512.5C1121.7 514.5 1125.0 516.3 1128.8 518.5C1132.6 520.7 1139.8 523.4 1143.7 525.9C1147.7 528.4 1151.5 531.1 1152.5 533.3C1153.5 535.5 1151.3 537.5 1149.6 539.2C1147.9 540.9 1145.4 542.7 1142.2 543.6C1139.0 544.5 1134.5 544.3 1130.3 544.4C1126.1 544.5 1119.3 546.2 1117.0 544.4C1114.7 542.5 1117.3 536.1 1116.3 533.3C1115.3 530.5 1113.9 528.6 1111.1 527.4C1108.2 526.2 1103.7 525.7 1099.2 525.9C1094.8 526.1 1088.5 528.9 1084.4 528.8C1080.3 528.7 1076.7 527.2 1074.7 525.1C1072.7 523.0 1073.5 518.9 1072.5 516.2C1071.5 513.5 1071.9 511.2 1068.8 508.8C1065.7 506.4 1059.0 503.8 1054.0 502.1C1049.0 500.4 1044.0 498.6 1039.1 498.4C1034.1 498.2 1028.2 501.4 1024.3 500.7C1020.4 500.0 1017.4 497.0 1015.5 494.0C1013.6 491.0 1015.4 485.9 1013.2 482.9C1011.0 479.9 1006.4 478.3 1002.1 476.2C997.8 474.1 992.2 470.8 987.3 470.3C982.4 469.8 977.4 473.1 972.5 473.3C967.6 473.6 962.3 472.7 957.7 471.8C953.1 470.9 950.0 468.3 945.0 468.0C940.0 467.7 934.2 469.7 928.0 470.0C921.8 470.3 914.3 469.0 908.0 470.0C901.7 471.0 895.0 474.7 890.0 476.0C885.0 477.3 881.7 477.9 878.0 478.0C874.3 478.1 869.7 476.6 868.0 476.3Z" fill="#969696"/>
<path d="M1204.0 511.0L1248.8 532.5L1228.1 548.1C1226.4 546.6 1221.9 541.7 1217.7 539.2C1213.5 536.7 1207.1 535.0 1202.9 533.3C1198.7 531.6 1194.5 530.8 1192.5 528.8C1190.5 526.8 1190.2 523.6 1191.0 521.4C1191.8 519.2 1194.8 517.2 1197.0 515.5C1199.2 513.8 1202.8 511.8 1204.0 511.0Z" fill="#969696"/>
<path d="M851.1 497.7L918.5 458.5L918.5 511.8L851.1 549.5Z" fill="#7fcf2e" opacity=".18"/>
<path d="M918.5 458.5L1068.8 528.1L1068.8 579.5L918.5 511.8Z" fill="#7fcf2e" opacity=".18"/>
<path d="M791.6 471.1L983.6 351.5L1030.3 371.8L1031.7 376.3L1126.2 420.2L1253.5 480.5" fill="none" stroke="#929292" stroke-width="1.3" stroke-linejoin="round" />
<path d="M791.6 471.1L791.6 538.9" fill="none" stroke="#929292" stroke-width="1.3" stroke-linejoin="round" />
<path d="M1253.5 480.5L1253.5 548.0" fill="none" stroke="#929292" stroke-width="1.3" stroke-linejoin="round" />
<path d="M1126.2 420.2L1210.8 367.3L1367.2 439.3L1367.2 490.1L1210.8 420.2L1173.3 442.4" fill="none" stroke="#929292" stroke-width="1.3" stroke-linejoin="round" />
<path d="M791.6 538.9L983.6 624.1L995.2 616.7L1136.7 682.1L1136.7 658.1L967.0 582.8L967.0 596.0L881.8 557.1L919.9 533.9L1063.0 600.1L1079.6 590.7L1125.1 613.4L1179.2 578.4L1193.3 585.1L1253.5 548.0" fill="none" stroke="#929292" stroke-width="1.3" stroke-linejoin="round" />
<path d="M1193.3 585.1L1193.3 520.0" fill="none" stroke="#929292" stroke-width="1.3" stroke-linejoin="round" />
<path d="M983.6 351.5L983.6 404.0" fill="none" stroke="#c9c9cf" stroke-width="1.2" stroke-linejoin="round" />
<path d="M1210.8 367.3L1210.8 420.2" fill="none" stroke="#c9c9cf" stroke-width="1.2" stroke-linejoin="round" />
<path d="M821.0 453.0L821.0 506.0" fill="none" stroke="#c9c9cf" stroke-width="1.2" stroke-linejoin="round" />
<path d="M913.5 395.0L913.5 448.0" fill="none" stroke="#c9c9cf" stroke-width="1.2" stroke-linejoin="round" />
<path d="M913.5 395.0L950.0 412.0" fill="none" stroke="#c9c9cf" stroke-width="1.2" stroke-linejoin="round" />
<path d="M1027.0 380.0L1027.0 425.0" fill="none" stroke="#c9c9cf" stroke-width="1.2" stroke-linejoin="round" />
<path d="M983.6 389.0L1027.0 365.0" fill="none" stroke="#c9c9cf" stroke-width="1.2" stroke-linejoin="round" />
<path d="M840.4 551.3L978.6 619.2" fill="none" stroke="#c9c9cf" stroke-width="1.2" stroke-linejoin="round" />
<path d="M918.2 512.4L918.2 533.0" fill="none" stroke="#c9c9cf" stroke-width="1.2" stroke-linejoin="round" />
<path d="M1063.0 579.0L1063.0 600.1" fill="none" stroke="#c9c9cf" stroke-width="1.2" stroke-linejoin="round" />
<path d="M1040.0 459.0L1090.0 435.0L1146.0 462.0" fill="none" stroke="#c9c9cf" stroke-width="1.2" stroke-linejoin="round" />
<path d="M1146.0 430.0L1146.0 488.0" fill="none" stroke="#c9c9cf" stroke-width="1.2" stroke-linejoin="round" />
<path d="M1085.0 418.0L1085.0 458.0" fill="none" stroke="#c9c9cf" stroke-width="1.2" stroke-linejoin="round" />
<path d="M1155.0 455.0L1155.0 486.0L1211.0 512.0L1211.0 480.0L1155.0 455.0" fill="none" stroke="#c9c9cf" stroke-width="1.2" stroke-linejoin="round" />
<path d="M1253.5 480.5L1193.0 516.0" fill="none" stroke="#c9c9cf" stroke-width="1.2" stroke-linejoin="round" />
<path d="M1183.0 448.0L1183.0 500.0" fill="none" stroke="#c9c9cf" stroke-width="1.2" stroke-linejoin="round" />
<path d="M1063.0 600.0L1063.0 582.9" fill="none" stroke="#c9c9cf" stroke-width="1.2" stroke-linejoin="round" />
<path d="M932.2 455.7L980.6 426.7L1012.8 441.2" fill="none" stroke="#6e6e6e" stroke-width="1.2" stroke-linejoin="round" opacity="0.45" />
<path d="M979.0 421.9L979.0 479.9" fill="none" stroke="#6e6e6e" stroke-width="1.2" stroke-linejoin="round" opacity="0.45" />
<path d="M996.7 410.6L996.7 428.3" fill="none" stroke="#6e6e6e" stroke-width="1.2" stroke-linejoin="round" opacity="0.45" />
<path d="M1085.3 470.2L1085.3 517.0" fill="none" stroke="#6e6e6e" stroke-width="1.2" stroke-linejoin="round" opacity="0.45" />
<path d="M1057.9 476.7L1057.9 562.0" fill="none" stroke="#6e6e6e" stroke-width="1.2" stroke-linejoin="round" opacity="0.45" />
<path d="M1012.8 441.2L1012.8 470.0" fill="none" stroke="#6e6e6e" stroke-width="1.2" stroke-linejoin="round" opacity="0.45" />
<path d="M791.6 471.1L851.1 497.7" fill="none" stroke="#929292" stroke-width="1.5" stroke-linejoin="round" />
<path d="M851.1 497.7L918.5 458.5L1068.8 528.1L1131.8 491.1L1188.1 517.0" fill="none" stroke="#4a4a4a" stroke-width="1.6" stroke-linejoin="round" opacity="0.8" />
<path d="M851.1 497.7L851.1 549.5" fill="none" stroke="#5f8a2c" stroke-width="1.3" stroke-linejoin="round" opacity="0.7" />
<path d="M918.5 458.5L918.5 511.8" fill="none" stroke="#5f8a2c" stroke-width="1.3" stroke-linejoin="round" opacity="0.7" />
<path d="M1068.8 528.1L1068.8 579.5" fill="none" stroke="#5f8a2c" stroke-width="1.3" stroke-linejoin="round" opacity="0.7" />
<path d="M944.0 474.3L944.0 519.3" fill="none" stroke="#6fb52a" stroke-width="1.1" stroke-linejoin="round" opacity="0.55" />
<path d="M960.0 481.7L960.0 526.5" fill="none" stroke="#6fb52a" stroke-width="1.1" stroke-linejoin="round" opacity="0.55" />
<path d="M975.0 488.7L975.0 533.2" fill="none" stroke="#6fb52a" stroke-width="1.1" stroke-linejoin="round" opacity="0.55" />
<path d="M995.0 497.9L995.0 542.3" fill="none" stroke="#6fb52a" stroke-width="1.1" stroke-linejoin="round" opacity="0.55" />
<path d="M1008.0 503.9L1008.0 548.1" fill="none" stroke="#6fb52a" stroke-width="1.1" stroke-linejoin="round" opacity="0.55" />
<path d="M1022.0 510.4L1022.0 554.4" fill="none" stroke="#6fb52a" stroke-width="1.1" stroke-linejoin="round" opacity="0.55" />
<path d="M1040.0 518.8L1040.0 562.5" fill="none" stroke="#6fb52a" stroke-width="1.1" stroke-linejoin="round" opacity="0.55" />
<path d="M1054.0 525.2L1054.0 568.8" fill="none" stroke="#6fb52a" stroke-width="1.1" stroke-linejoin="round" opacity="0.55" />
<path d="M858.0 546.0L858.0 508.0L869.0 502.0L869.0 540.0" fill="none" stroke="#6fb52a" stroke-width="1.1" stroke-linejoin="round" opacity="0.6" />

<path d="M792.0 478.0L804.0 483.5L804.0 520.0L792.0 514.5Z" fill="none" stroke="#d9534f" stroke-width="1.6" stroke-linejoin="round" />
<path d="M792.0 478.0L816.0 489.0L816.0 524.0" fill="none" stroke="#d9534f" stroke-width="1.4" stroke-linejoin="round" stroke-dasharray="5 3"/>
<path d="M1468.3 456.5L1468.3 522.3L1659.4 608.3L1675.0 602.8L1814.0 668.7L1814.0 643.0L1646.6 568.0L1646.6 580.9L1560.7 541.5L1599.1 519.6L1740.9 584.5L1754.6 576.3L1803.0 597.3L1932.0 528.6L1932.0 480.0" fill="none" stroke="#d9d9d9" stroke-width="1.3" stroke-linejoin="round" />
<path d="M1855.5 371.8L1888.8 353.3L2044.9 425.5L2044.9 476.2L1943.0 430.5" fill="none" stroke="#d9d9d9" stroke-width="1.3" stroke-linejoin="round" />
<path d="M1888.8 353.3L1888.8 363.7" fill="none" stroke="#d9d9d9" stroke-width="1.3" stroke-linejoin="round" />
<path d="M1471.1 455.8L1507.4 432.5L1531.1 442.6L1548.8 442.9L1610.3 409.1L1633.3 397.7L1651.8 408.5L1597.0 442.9L1529.6 483.6Z" fill="#B6B6B8"/>
<path d="M1502.2 471.3C1499.8 467.6 1510.7 463.3 1515.5 461.0C1520.3 458.6 1525.5 457.4 1531.1 457.4C1536.6 457.4 1544.3 459.5 1548.8 461.0C1553.4 462.4 1559.3 463.4 1558.5 465.8C1557.6 468.3 1548.4 472.6 1543.7 475.5C1538.9 478.4 1536.8 484.0 1529.9 483.3C1523.0 482.6 1504.6 475.0 1502.2 471.3Z" fill="#C6EE9A"/>
<path d="M1537.0 448.8L1547.4 444.4L1547.4 456.5L1537.0 459.9Z" fill="#8a8a8a"/>
<path d="M1535.8 459.9L1547.4 456.5L1547.4 466.9L1535.8 471.3Z" fill="#93DE3E"/>
<path d="M1575.5 391.1L1631.8 357.7L1654.0 340.0L1665.5 341.5L1700.0 359.0L1771.1 388.9L1833.3 415.5L1885.1 442.2L1862.9 449.9L1848.1 452.8L1827.4 471.8L1814.0 477.7L1791.8 473.3L1788.8 457.0L1765.2 458.5L1762.2 434.8L1782.9 428.8L1762.2 411.1L1741.5 409.6L1711.7 390.3L1679.2 375.1L1671.0 375.1L1633.3 397.7L1610.3 409.1L1594.0 398.5Z" fill="#B6B6B8"/>
<path d="M1575.5 391.1L1631.8 357.7L1631.8 369.6L1594.0 398.5Z" fill="#9B9B9B"/>
<path d="M1762.2 434.8L1782.9 427.4L1797.7 436.3L1766.6 457.0L1762.2 455.5Z" fill="#8e8e90"/>
<path d="M1599.2 375.1C1600.6 373.0 1609.1 369.9 1614.0 367.4C1618.9 364.9 1625.8 360.2 1628.8 360.0C1631.8 359.7 1633.4 363.2 1632.1 365.9C1630.7 368.6 1625.0 374.0 1620.7 376.3C1616.3 378.5 1609.4 379.7 1605.9 379.5C1602.3 379.3 1597.8 377.1 1599.2 375.1Z" fill="#93DE3E"/>
<path d="M1682.1 375.1L1702.9 361.7L1725.1 370.6L1711.7 381.0L1702.9 384.0Z" fill="#C6EE9A"/>
<path d="M1700.0 362.2L1723.7 368.4L1708.9 381.8L1700.0 378.8Z" fill="#93DE3E"/>
<path d="M1710.4 425.9L1737.0 411.1L1771.1 414.0L1777.0 425.9L1762.2 434.8L1762.2 452.5L1744.4 449.9Z" fill="#C6EE9A"/>
<path d="M1735.8 416.3C1737.8 411.9 1743.2 411.7 1748.9 411.4C1754.5 411.0 1764.9 412.1 1769.6 414.0C1774.3 416.0 1778.1 419.5 1777.0 422.9C1775.9 426.4 1765.9 430.8 1762.9 434.8C1760.0 438.8 1761.6 444.4 1759.2 446.9C1756.9 449.4 1752.6 451.4 1748.9 449.9C1745.2 448.3 1739.2 443.3 1737.0 437.7C1734.8 432.1 1733.9 420.7 1735.8 416.3Z" fill="#93DE3E"/>
<path d="M1802.2 412.9C1803.7 410.6 1808.6 408.1 1812.5 408.1C1816.5 408.1 1825.7 410.4 1825.9 412.9C1826.0 415.3 1817.0 421.5 1813.3 422.9C1809.6 424.4 1805.5 423.1 1803.7 421.4C1801.8 419.8 1800.7 415.1 1802.2 412.9Z" fill="#93DE3E"/>
<path d="M1707.4 471.8L1734.1 458.5L1750.3 465.9L1740.0 473.3L1739.2 485.1Z" fill="#93DE3E"/>
<path d="M1763.7 468.8L1788.8 459.9L1788.8 489.6L1763.7 480.7Z" fill="#93DE3E"/>
<path d="M1814.0 477.7L1827.4 471.8L1848.1 452.8L1862.9 449.9L1885.1 442.2L1896.9 446.9L1925.1 458.5L1877.7 463.2L1874.7 465.9L1837.7 485.9Z" fill="#C6EE9A"/>
<path d="M1865.9 448.4L1885.1 442.2L1897.7 446.9L1877.7 457.3Z" fill="#93DE3E"/>
<path d="M1707.4 471.8L1734.1 458.5L1763.7 468.8L1788.8 459.9L1814.0 477.7L1804.4 499.9L1739.2 473.3L1739.2 485.1Z" fill="#cdf0a8"/>
<path d="M1739.5 471.5L1764.0 466.9L1788.6 455.2L1792.1 483.8L1813.2 472.1L1822.5 475.6L1833.1 483.8L1803.8 499.0Z" fill="#d2f2b0"/>
<path d="M1788.8 488.1L1814.0 477.7L1833.3 482.2L1837.7 485.9L1804.4 499.9Z" fill="#93DE3E"/>
<path d="M1763.7 468.8L1788.8 459.9L1788.8 489.6L1763.7 480.7Z" fill="#93DE3E"/>
<path d="M1739.2 473.3L1804.4 499.2L1804.4 547.3L1744.4 519.9L1760.7 504.4L1739.2 495.5Z" fill="#C6EE9A"/>
<path d="M1804.4 499.2L1877.7 458.5L1895.5 446.9L1925.1 442.5L1936.9 467.4L1804.4 547.3Z" fill="#C6EE9A"/>
<path d="M1794.8 543.6L1804.4 538.7L1818.5 540.7L1804.4 549.4Z" fill="#B6B6B8"/>
<path d="M1922.1 462.9L1939.9 465.3L1931.0 472.1Z" fill="#B6B6B8"/>
<path d="M1747.4 517.0L1765.2 519.9L1759.2 525.1L1748.9 522.4Z" fill="#B6B6B8"/>
<path d="M1815.5 510.3L1837.0 498.4L1837.0 517.0L1815.5 528.8Z" fill="#93DE3E"/>
<path d="M1851.8 489.6L1871.8 478.5L1871.8 495.5L1851.8 505.9Z" fill="#93DE3E"/>
<path d="M1887.3 470.0L1919.2 454.8L1925.1 458.5L1888.1 483.6Z" fill="#93DE3E"/>
<path d="M1510.3 410.0L1554.0 387.4L1554.0 405.9L1510.3 429.6Z" fill="none" stroke="#d9534f" stroke-width="1.5" stroke-linejoin="round" />
<path d="M1510.3 410.0L1510.3 395.5L1552.6 370.6L1554.0 387.4" fill="none" stroke="#d9534f" stroke-width="1.4" stroke-linejoin="round" stroke-dasharray="7 6"/>
<path d="M1468.9 456.2L1468.9 408.1L1656.9 291.1L1772.5 340.0L1772.5 343.7L1942.1 418.5L1942.1 465.9L1804.4 549.5" fill="none" stroke="#939393" stroke-width="1.25" stroke-linejoin="round" />
<path d="M1468.9 456.2L1529.6 484.4L1597.0 443.6L1658.4 472.5L1658.4 484.4L1804.4 549.5" fill="none" stroke="#939393" stroke-width="1.25" stroke-linejoin="round" />
<path d="M1656.9 291.1L1656.9 345.2" fill="none" stroke="#c9c9cf" stroke-width="1.2" stroke-linejoin="round" />
<path d="M1804.4 498.4L1804.4 549.5" fill="none" stroke="#c9c9cf" stroke-width="1.2" stroke-linejoin="round" />
<path d="M1531.1 437.0L1531.1 482.9" fill="none" stroke="#c9c9cf" stroke-width="1.2" stroke-linejoin="round" />
<path d="M1511.8 397.0L1553.3 370.3L1553.3 402.9L1511.8 429.6L1511.8 397.0" fill="none" stroke="#c9c9cf" stroke-width="1.2" stroke-linejoin="round" />
<path d="M1595.5 357.0L1624.4 342.2L1624.4 360.0" fill="none" stroke="#c9c9cf" stroke-width="1.2" stroke-linejoin="round" />
<path d="M1595.5 357.0L1595.5 374.8" fill="none" stroke="#c9c9cf" stroke-width="1.2" stroke-linejoin="round" />
<path d="M1705.8 315.5L1705.8 368.8" fill="none" stroke="#c9c9cf" stroke-width="1.2" stroke-linejoin="round" />
<path d="M1772.5 343.7L1772.5 383.7" fill="none" stroke="#c9c9cf" stroke-width="1.2" stroke-linejoin="round" />
<path d="M1656.9 339.2L1702.9 315.5L1769.5 345.2" fill="none" stroke="#c9c9cf" stroke-width="1.2" stroke-linejoin="round" />
<path d="M1772.6 343.0L1772.6 384.4" fill="none" stroke="#c9c9cf" stroke-width="1.2" stroke-linejoin="round" />
<path d="M1834.8 371.8L1834.8 411.1" fill="none" stroke="#c9c9cf" stroke-width="1.2" stroke-linejoin="round" />
<path d="M1875.5 393.3L1875.5 437.7" fill="none" stroke="#c9c9cf" stroke-width="1.2" stroke-linejoin="round" />
<path d="M1879.9 394.8L1879.9 495.5" fill="none" stroke="#c9c9cf" stroke-width="1.2" stroke-linejoin="round" />
<path d="M1813.3 377.0L1813.3 477.7" fill="none" stroke="#c9c9cf" stroke-width="1.2" stroke-linejoin="round" />
<path d="M1821.4 431.8L1821.4 477.7" fill="none" stroke="#c9c9cf" stroke-width="1.2" stroke-linejoin="round" />
<path d="M1762.2 405.2L1762.2 480.7" fill="none" stroke="#c9c9cf" stroke-width="1.2" stroke-linejoin="round" />
<path d="M1739.2 473.3L1739.2 517.0" fill="none" stroke="#c9c9cf" stroke-width="1.2" stroke-linejoin="round" />
<path d="M1925.1 442.2L1925.1 458.5" fill="none" stroke="#c9c9cf" stroke-width="1.2" stroke-linejoin="round" />
<path d="M1834.8 411.1L1875.5 393.3" fill="none" stroke="#c9c9cf" stroke-width="1.2" stroke-linejoin="round" />
<path d="M1879.9 443.7L1925.1 422.9" fill="none" stroke="#c9c9cf" stroke-width="1.2" stroke-linejoin="round" />
<path d="M1685.1 439.2L1705.8 429.6L1741.4 447.3L1720.6 457.7L1685.1 439.2" fill="none" stroke="#c9c9cf" stroke-width="1.2" stroke-linejoin="round" />
<path d="M1685.1 439.2L1685.1 445.9L1720.6 464.4L1720.6 457.7" fill="none" stroke="#c9c9cf" stroke-width="1.2" stroke-linejoin="round" />
</g>
</svg>
</body></html>
